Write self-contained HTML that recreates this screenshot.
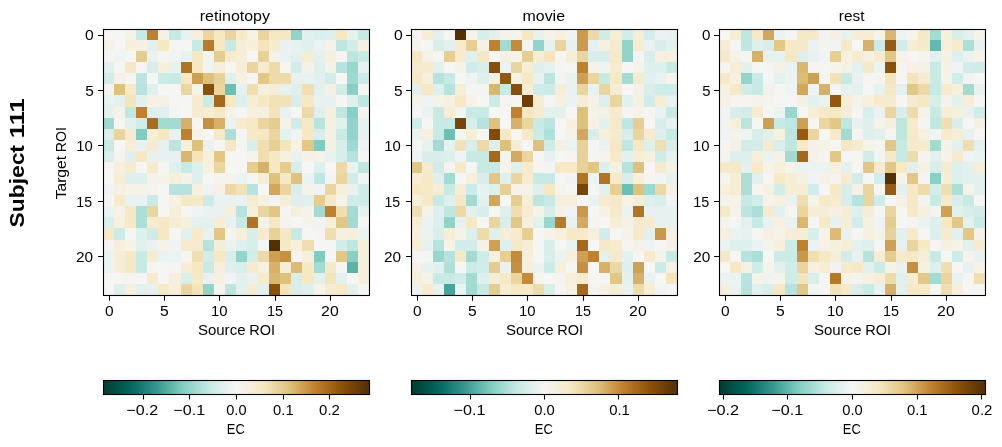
<!DOCTYPE html>
<html><head><meta charset="utf-8"><title>EC</title>
<style>
html,body{margin:0;padding:0;background:#fff;}
svg{display:block;}
text{font-family:"Liberation Sans",sans-serif;fill:#000;}
.t{opacity:0.999;}
</style></head><body>
<svg width="1002" height="447" viewBox="0 0 1002 447">
<rect x="0" y="0" width="1002" height="447" fill="#fff"/>
<defs><linearGradient id="g" x1="0" x2="1" y1="0" y2="0"><stop offset="0.0000" stop-color="#003c30"/><stop offset="0.0156" stop-color="#004337"/><stop offset="0.0312" stop-color="#00493e"/><stop offset="0.0469" stop-color="#005046"/><stop offset="0.0625" stop-color="#01564d"/><stop offset="0.0781" stop-color="#015d54"/><stop offset="0.0938" stop-color="#01645b"/><stop offset="0.1094" stop-color="#066b63"/><stop offset="0.1250" stop-color="#0e726a"/><stop offset="0.1406" stop-color="#167a72"/><stop offset="0.1562" stop-color="#1f827a"/><stop offset="0.1719" stop-color="#278a82"/><stop offset="0.1875" stop-color="#2f9189"/><stop offset="0.2031" stop-color="#389991"/><stop offset="0.2188" stop-color="#44a299"/><stop offset="0.2344" stop-color="#4faaa1"/><stop offset="0.2500" stop-color="#5bb3a8"/><stop offset="0.2656" stop-color="#67bbb0"/><stop offset="0.2812" stop-color="#73c3b8"/><stop offset="0.2969" stop-color="#7fccc0"/><stop offset="0.3125" stop-color="#8ad1c6"/><stop offset="0.3281" stop-color="#95d6cc"/><stop offset="0.3438" stop-color="#a0dad1"/><stop offset="0.3594" stop-color="#abdfd7"/><stop offset="0.3750" stop-color="#b6e3dd"/><stop offset="0.3906" stop-color="#c1e8e2"/><stop offset="0.4062" stop-color="#cbebe6"/><stop offset="0.4219" stop-color="#d2ede9"/><stop offset="0.4375" stop-color="#d9eeeb"/><stop offset="0.4531" stop-color="#e0f0ee"/><stop offset="0.4688" stop-color="#e7f2f0"/><stop offset="0.4844" stop-color="#eff3f3"/><stop offset="0.5000" stop-color="#f5f5f4"/><stop offset="0.5156" stop-color="#f5f3ec"/><stop offset="0.5312" stop-color="#f5f1e4"/><stop offset="0.5469" stop-color="#f5efdc"/><stop offset="0.5625" stop-color="#f6edd5"/><stop offset="0.5781" stop-color="#f6ebcd"/><stop offset="0.5938" stop-color="#f6e9c5"/><stop offset="0.6094" stop-color="#f3e4bb"/><stop offset="0.6250" stop-color="#f0deb0"/><stop offset="0.6406" stop-color="#ecd8a5"/><stop offset="0.6562" stop-color="#e8d29a"/><stop offset="0.6719" stop-color="#e5cc8f"/><stop offset="0.6875" stop-color="#e1c684"/><stop offset="0.7031" stop-color="#ddbe78"/><stop offset="0.7188" stop-color="#d8b46c"/><stop offset="0.7344" stop-color="#d3aa5f"/><stop offset="0.7500" stop-color="#cea053"/><stop offset="0.7656" stop-color="#c99546"/><stop offset="0.7812" stop-color="#c48b3a"/><stop offset="0.7969" stop-color="#bf812d"/><stop offset="0.8125" stop-color="#b77928"/><stop offset="0.8281" stop-color="#af7222"/><stop offset="0.8438" stop-color="#a76a1d"/><stop offset="0.8594" stop-color="#9f6317"/><stop offset="0.8750" stop-color="#975b12"/><stop offset="0.8906" stop-color="#8f540c"/><stop offset="0.9062" stop-color="#874e0a"/><stop offset="0.9219" stop-color="#7e4909"/><stop offset="0.9375" stop-color="#754308"/><stop offset="0.9531" stop-color="#6c3e07"/><stop offset="0.9688" stop-color="#633906"/><stop offset="0.9844" stop-color="#5b3406"/><stop offset="1.0000" stop-color="#543005"/></linearGradient></defs>
<g shape-rendering="crispEdges">
<rect x="103" y="29" width="22" height="11" fill="#f5f5f4"/><rect x="125" y="29" width="11" height="11" fill="#f5f2e8"/><rect x="136" y="29" width="11" height="11" fill="#c7eae5"/><rect x="147" y="29" width="11" height="11" fill="#bf812d"/><rect x="158" y="29" width="11" height="11" fill="#f5f1e4"/><rect x="169" y="29" width="12" height="11" fill="#c7eae5"/><rect x="181" y="29" width="11" height="11" fill="#e9f2f1"/><rect x="192" y="29" width="11" height="11" fill="#f5efdc"/><rect x="203" y="29" width="11" height="11" fill="#ead59f"/><rect x="214" y="29" width="11" height="11" fill="#f6e8c3"/><rect x="225" y="29" width="11" height="11" fill="#ead59f"/><rect x="236" y="29" width="11" height="11" fill="#f6e9c7"/><rect x="247" y="29" width="11" height="11" fill="#f5f2e8"/><rect x="258" y="29" width="11" height="11" fill="#ead59f"/><rect x="269" y="29" width="22" height="11" fill="#f6e8c3"/><rect x="291" y="29" width="11" height="11" fill="#92d4ca"/><rect x="302" y="29" width="12" height="11" fill="#e0f0ee"/><rect x="314" y="29" width="11" height="11" fill="#dbefec"/><rect x="325" y="29" width="11" height="11" fill="#def0ed"/><rect x="336" y="29" width="11" height="11" fill="#f6e8c3"/><rect x="347" y="29" width="11" height="11" fill="#e6f1f0"/><rect x="358" y="29" width="11" height="11" fill="#c7eae5"/>
<rect x="103" y="40" width="11" height="11" fill="#f5f2e8"/><rect x="114" y="40" width="11" height="11" fill="#f5f5f4"/><rect x="125" y="40" width="11" height="11" fill="#f5efdc"/><rect x="136" y="40" width="11" height="11" fill="#f5f0e0"/><rect x="147" y="40" width="11" height="11" fill="#e2f0ee"/><rect x="158" y="40" width="11" height="11" fill="#f6e8c3"/><rect x="169" y="40" width="23" height="11" fill="#f5f5f4"/><rect x="192" y="40" width="11" height="11" fill="#c7eae5"/><rect x="203" y="40" width="11" height="11" fill="#b97b29"/><rect x="214" y="40" width="11" height="11" fill="#f6e8c3"/><rect x="225" y="40" width="11" height="11" fill="#c7eae5"/><rect x="236" y="40" width="11" height="11" fill="#f6edd7"/><rect x="247" y="40" width="11" height="11" fill="#f5efdc"/><rect x="258" y="40" width="11" height="11" fill="#f3e4bb"/><rect x="269" y="40" width="11" height="11" fill="#f6ebcf"/><rect x="280" y="40" width="11" height="11" fill="#e9f2f1"/><rect x="291" y="40" width="11" height="11" fill="#e7f2f0"/><rect x="302" y="40" width="12" height="11" fill="#e0f0ee"/><rect x="314" y="40" width="11" height="11" fill="#ebf3f2"/><rect x="325" y="40" width="11" height="11" fill="#f5f2ea"/><rect x="336" y="40" width="11" height="11" fill="#bfe7e1"/><rect x="347" y="40" width="11" height="11" fill="#d2ede9"/><rect x="358" y="40" width="11" height="11" fill="#f5f0e0"/>
<rect x="103" y="51" width="11" height="11" fill="#f5f5f4"/><rect x="114" y="51" width="11" height="11" fill="#f0f4f3"/><rect x="125" y="51" width="11" height="11" fill="#f5f5f4"/><rect x="136" y="51" width="11" height="11" fill="#e5cc8f"/><rect x="147" y="51" width="11" height="11" fill="#e9f2f1"/><rect x="158" y="51" width="11" height="11" fill="#f5f4f0"/><rect x="169" y="51" width="12" height="11" fill="#f0f4f3"/><rect x="181" y="51" width="11" height="11" fill="#e7f2f0"/><rect x="192" y="51" width="11" height="11" fill="#f6e8c3"/><rect x="203" y="51" width="11" height="11" fill="#f0f4f3"/><rect x="214" y="51" width="11" height="11" fill="#e5cc8f"/><rect x="225" y="51" width="11" height="11" fill="#f6ebcf"/><rect x="236" y="51" width="11" height="11" fill="#f6edd7"/><rect x="247" y="51" width="11" height="11" fill="#f5f5f4"/><rect x="258" y="51" width="11" height="11" fill="#e8d29a"/><rect x="269" y="51" width="11" height="11" fill="#f5f2ea"/><rect x="280" y="51" width="11" height="11" fill="#e9f2f1"/><rect x="291" y="51" width="11" height="11" fill="#e2f0ee"/><rect x="302" y="51" width="12" height="11" fill="#f6edd5"/><rect x="314" y="51" width="11" height="11" fill="#e2f0ee"/><rect x="325" y="51" width="11" height="11" fill="#f5efde"/><rect x="336" y="51" width="11" height="11" fill="#f5f4f0"/><rect x="347" y="51" width="11" height="11" fill="#bce5df"/><rect x="358" y="51" width="11" height="11" fill="#c7eae5"/>
<rect x="103" y="62" width="11" height="11" fill="#e2f0ee"/><rect x="114" y="62" width="11" height="11" fill="#f5f5f4"/><rect x="125" y="62" width="11" height="11" fill="#f6e8c3"/><rect x="136" y="62" width="11" height="11" fill="#f5f5f4"/><rect x="147" y="62" width="11" height="11" fill="#d9eeeb"/><rect x="158" y="62" width="11" height="11" fill="#f5efdc"/><rect x="169" y="62" width="12" height="11" fill="#e7f2f0"/><rect x="181" y="62" width="11" height="11" fill="#b17423"/><rect x="192" y="62" width="11" height="11" fill="#f6e8c3"/><rect x="203" y="62" width="11" height="11" fill="#eff3f3"/><rect x="214" y="62" width="11" height="11" fill="#f5efdc"/><rect x="225" y="62" width="11" height="11" fill="#f5f5f4"/><rect x="236" y="62" width="11" height="11" fill="#f6edd7"/><rect x="247" y="62" width="11" height="11" fill="#ead59f"/><rect x="258" y="62" width="11" height="11" fill="#f6ebcf"/><rect x="269" y="62" width="11" height="11" fill="#eedbaa"/><rect x="280" y="62" width="11" height="11" fill="#f5f5f4"/><rect x="291" y="62" width="11" height="11" fill="#d2ede9"/><rect x="302" y="62" width="12" height="11" fill="#f5f1e6"/><rect x="314" y="62" width="11" height="11" fill="#def0ed"/><rect x="325" y="62" width="11" height="11" fill="#f5f1e6"/><rect x="336" y="62" width="11" height="11" fill="#b6e3dd"/><rect x="347" y="62" width="11" height="11" fill="#98d7cd"/><rect x="358" y="62" width="11" height="11" fill="#e6f1f0"/>
<rect x="103" y="73" width="11" height="11" fill="#d2ede9"/><rect x="114" y="73" width="11" height="11" fill="#f5f1e6"/><rect x="125" y="73" width="11" height="11" fill="#f5f5f4"/><rect x="136" y="73" width="11" height="11" fill="#bce5df"/><rect x="147" y="73" width="11" height="11" fill="#f5f5f4"/><rect x="158" y="73" width="11" height="11" fill="#cbebe6"/><rect x="169" y="73" width="12" height="11" fill="#c7eae5"/><rect x="181" y="73" width="11" height="11" fill="#f6e8c3"/><rect x="192" y="73" width="11" height="11" fill="#cea053"/><rect x="203" y="73" width="11" height="11" fill="#dec17b"/><rect x="214" y="73" width="11" height="11" fill="#e8d29a"/><rect x="225" y="73" width="11" height="11" fill="#def0ed"/><rect x="236" y="73" width="11" height="11" fill="#f5f0e0"/><rect x="247" y="73" width="11" height="11" fill="#f5f5f4"/><rect x="258" y="73" width="11" height="11" fill="#e2c787"/><rect x="269" y="73" width="22" height="11" fill="#eedbaa"/><rect x="291" y="73" width="23" height="11" fill="#e6f1f0"/><rect x="314" y="73" width="11" height="11" fill="#e2f0ee"/><rect x="325" y="73" width="11" height="11" fill="#d2ede9"/><rect x="336" y="73" width="11" height="11" fill="#f5f5f4"/><rect x="347" y="73" width="11" height="11" fill="#9dd9d0"/><rect x="358" y="73" width="11" height="11" fill="#cbebe6"/>
<rect x="103" y="84" width="11" height="11" fill="#f5f3ee"/><rect x="114" y="84" width="11" height="11" fill="#dec17b"/><rect x="125" y="84" width="11" height="11" fill="#f6e9c7"/><rect x="136" y="84" width="11" height="11" fill="#b6e3dd"/><rect x="147" y="84" width="11" height="11" fill="#def0ed"/><rect x="158" y="84" width="23" height="11" fill="#f5f5f4"/><rect x="181" y="84" width="11" height="11" fill="#ead59f"/><rect x="192" y="84" width="11" height="11" fill="#f5f2ea"/><rect x="203" y="84" width="11" height="11" fill="#8b500a"/><rect x="214" y="84" width="11" height="11" fill="#ead59f"/><rect x="225" y="84" width="11" height="11" fill="#6dbfb4"/><rect x="236" y="84" width="11" height="11" fill="#e6f1f0"/><rect x="247" y="84" width="11" height="11" fill="#f0deb0"/><rect x="258" y="84" width="11" height="11" fill="#f5efdc"/><rect x="269" y="84" width="11" height="11" fill="#f6edd7"/><rect x="280" y="84" width="11" height="11" fill="#e7f2f0"/><rect x="291" y="84" width="11" height="11" fill="#def0ed"/><rect x="302" y="84" width="12" height="11" fill="#f0deb0"/><rect x="314" y="84" width="11" height="11" fill="#e2f0ee"/><rect x="325" y="84" width="11" height="11" fill="#f5f0e0"/><rect x="336" y="84" width="11" height="11" fill="#d2ede9"/><rect x="347" y="84" width="11" height="11" fill="#87d0c5"/><rect x="358" y="84" width="11" height="11" fill="#f5f5f4"/>
<rect x="103" y="95" width="11" height="12" fill="#e6f1f0"/><rect x="114" y="95" width="11" height="12" fill="#e2f0ee"/><rect x="125" y="95" width="11" height="12" fill="#f3e4bb"/><rect x="136" y="95" width="11" height="12" fill="#e2f0ee"/><rect x="147" y="95" width="11" height="12" fill="#f5f1e4"/><rect x="158" y="95" width="11" height="12" fill="#f5f1e6"/><rect x="169" y="95" width="23" height="12" fill="#f5f5f4"/><rect x="192" y="95" width="11" height="12" fill="#f6ebcf"/><rect x="203" y="95" width="11" height="12" fill="#cbebe6"/><rect x="214" y="95" width="11" height="12" fill="#a5691b"/><rect x="225" y="95" width="11" height="12" fill="#f6e8c3"/><rect x="236" y="95" width="11" height="12" fill="#def0ed"/><rect x="247" y="95" width="11" height="12" fill="#f6edd7"/><rect x="258" y="95" width="11" height="12" fill="#f6e8c3"/><rect x="269" y="95" width="22" height="12" fill="#f2e2b8"/><rect x="291" y="95" width="11" height="12" fill="#d7eeeb"/><rect x="302" y="95" width="12" height="12" fill="#f6e8c3"/><rect x="314" y="95" width="11" height="12" fill="#e6f1f0"/><rect x="325" y="95" width="11" height="12" fill="#e7f2f0"/><rect x="336" y="95" width="11" height="12" fill="#f5f5f4"/><rect x="347" y="95" width="11" height="12" fill="#def0ed"/><rect x="358" y="95" width="11" height="12" fill="#bfe7e1"/>
<rect x="103" y="107" width="11" height="11" fill="#e2f0ee"/><rect x="114" y="107" width="11" height="11" fill="#f5f1e4"/><rect x="125" y="107" width="11" height="11" fill="#bfe7e1"/><rect x="136" y="107" width="11" height="11" fill="#bf812d"/><rect x="147" y="107" width="11" height="11" fill="#def0ed"/><rect x="158" y="107" width="11" height="11" fill="#e0f0ee"/><rect x="169" y="107" width="12" height="11" fill="#f0f4f3"/><rect x="181" y="107" width="11" height="11" fill="#f5f5f4"/><rect x="192" y="107" width="11" height="11" fill="#f6ebcd"/><rect x="203" y="107" width="11" height="11" fill="#f6edd5"/><rect x="214" y="107" width="11" height="11" fill="#f6e8c3"/><rect x="225" y="107" width="11" height="11" fill="#f5f2e8"/><rect x="236" y="107" width="11" height="11" fill="#f5f5f4"/><rect x="247" y="107" width="11" height="11" fill="#f5efdc"/><rect x="258" y="107" width="11" height="11" fill="#f5f0e0"/><rect x="269" y="107" width="11" height="11" fill="#f3e4bb"/><rect x="280" y="107" width="11" height="11" fill="#e9f2f1"/><rect x="291" y="107" width="11" height="11" fill="#f5f5f4"/><rect x="302" y="107" width="12" height="11" fill="#edd9a8"/><rect x="314" y="107" width="11" height="11" fill="#def0ed"/><rect x="325" y="107" width="11" height="11" fill="#f5efdc"/><rect x="336" y="107" width="11" height="11" fill="#bfe7e1"/><rect x="347" y="107" width="11" height="11" fill="#87d0c5"/><rect x="358" y="107" width="11" height="11" fill="#f5f3ee"/>
<rect x="103" y="118" width="11" height="11" fill="#9dd9d0"/><rect x="114" y="118" width="11" height="11" fill="#f5f5f4"/><rect x="125" y="118" width="11" height="11" fill="#e2f0ee"/><rect x="136" y="118" width="11" height="11" fill="#d2ede9"/><rect x="147" y="118" width="11" height="11" fill="#a96c1e"/><rect x="158" y="118" width="23" height="11" fill="#a3dbd3"/><rect x="181" y="118" width="11" height="11" fill="#d7b169"/><rect x="192" y="118" width="11" height="11" fill="#f5f5f4"/><rect x="203" y="118" width="11" height="11" fill="#c79040"/><rect x="214" y="118" width="11" height="11" fill="#d7b169"/><rect x="225" y="118" width="11" height="11" fill="#e9f2f1"/><rect x="236" y="118" width="11" height="11" fill="#f6ebcf"/><rect x="247" y="118" width="11" height="11" fill="#f6e9c7"/><rect x="258" y="118" width="11" height="11" fill="#ead59f"/><rect x="269" y="118" width="11" height="11" fill="#e5cc8f"/><rect x="280" y="118" width="11" height="11" fill="#f5f2e8"/><rect x="291" y="118" width="11" height="11" fill="#d2ede9"/><rect x="302" y="118" width="12" height="11" fill="#f6e9c7"/><rect x="314" y="118" width="11" height="11" fill="#b6e3dd"/><rect x="325" y="118" width="11" height="11" fill="#f5f0e0"/><rect x="336" y="118" width="11" height="11" fill="#e2f0ee"/><rect x="347" y="118" width="11" height="11" fill="#92d4ca"/><rect x="358" y="118" width="11" height="11" fill="#e7f2f0"/>
<rect x="103" y="129" width="11" height="11" fill="#d9eeeb"/><rect x="114" y="129" width="11" height="11" fill="#ead59f"/><rect x="125" y="129" width="11" height="11" fill="#f6ebcf"/><rect x="136" y="129" width="11" height="11" fill="#7fccc0"/><rect x="147" y="129" width="11" height="11" fill="#f6edd5"/><rect x="158" y="129" width="11" height="11" fill="#f6e8c3"/><rect x="169" y="129" width="12" height="11" fill="#e9f2f1"/><rect x="181" y="129" width="11" height="11" fill="#bf812d"/><rect x="192" y="129" width="11" height="11" fill="#f5f2e8"/><rect x="203" y="129" width="11" height="11" fill="#f5f5f4"/><rect x="214" y="129" width="11" height="11" fill="#f6e9c7"/><rect x="225" y="129" width="11" height="11" fill="#abdfd7"/><rect x="236" y="129" width="11" height="11" fill="#f5f5f4"/><rect x="247" y="129" width="11" height="11" fill="#f6e9c7"/><rect x="258" y="129" width="11" height="11" fill="#f6e8c3"/><rect x="269" y="129" width="11" height="11" fill="#ead59f"/><rect x="280" y="129" width="11" height="11" fill="#e2f0ee"/><rect x="291" y="129" width="11" height="11" fill="#eff3f3"/><rect x="302" y="129" width="12" height="11" fill="#f6e8c3"/><rect x="314" y="129" width="11" height="11" fill="#d7eeeb"/><rect x="325" y="129" width="11" height="11" fill="#f5f0e0"/><rect x="336" y="129" width="11" height="11" fill="#c7eae5"/><rect x="347" y="129" width="11" height="11" fill="#92d4ca"/><rect x="358" y="129" width="11" height="11" fill="#e7f2f0"/>
<rect x="103" y="140" width="11" height="11" fill="#c7eae5"/><rect x="114" y="140" width="11" height="11" fill="#f5f5f4"/><rect x="125" y="140" width="11" height="11" fill="#f6edd7"/><rect x="136" y="140" width="11" height="11" fill="#e7f2f0"/><rect x="147" y="140" width="11" height="11" fill="#f6ebcf"/><rect x="158" y="140" width="11" height="11" fill="#e6f1f0"/><rect x="169" y="140" width="12" height="11" fill="#bce5df"/><rect x="181" y="140" width="11" height="11" fill="#f5efdc"/><rect x="192" y="140" width="11" height="11" fill="#dec17b"/><rect x="203" y="140" width="11" height="11" fill="#e9f2f1"/><rect x="214" y="140" width="11" height="11" fill="#f5f5f4"/><rect x="225" y="140" width="11" height="11" fill="#f6e8c3"/><rect x="236" y="140" width="11" height="11" fill="#f5f5f4"/><rect x="247" y="140" width="11" height="11" fill="#d7eeeb"/><rect x="258" y="140" width="11" height="11" fill="#f0deb0"/><rect x="269" y="140" width="11" height="11" fill="#e7cf94"/><rect x="280" y="140" width="11" height="11" fill="#f3e4bb"/><rect x="291" y="140" width="11" height="11" fill="#f5f1e4"/><rect x="302" y="140" width="12" height="11" fill="#e1c684"/><rect x="314" y="140" width="11" height="11" fill="#7fccc0"/><rect x="325" y="140" width="11" height="11" fill="#f5f0e0"/><rect x="336" y="140" width="11" height="11" fill="#d9eeeb"/><rect x="347" y="140" width="11" height="11" fill="#9dd9d0"/><rect x="358" y="140" width="11" height="11" fill="#eff3f3"/>
<rect x="103" y="151" width="11" height="11" fill="#d9eeeb"/><rect x="114" y="151" width="11" height="11" fill="#f5f3ee"/><rect x="125" y="151" width="11" height="11" fill="#def0ed"/><rect x="136" y="151" width="11" height="11" fill="#f6e8c3"/><rect x="147" y="151" width="34" height="11" fill="#e7f2f0"/><rect x="181" y="151" width="11" height="11" fill="#d9b76f"/><rect x="192" y="151" width="11" height="11" fill="#f3e4bb"/><rect x="203" y="151" width="11" height="11" fill="#f5efdc"/><rect x="214" y="151" width="11" height="11" fill="#e1c684"/><rect x="225" y="151" width="22" height="11" fill="#f5f5f4"/><rect x="247" y="151" width="11" height="11" fill="#f5f3ee"/><rect x="258" y="151" width="11" height="11" fill="#f0deb0"/><rect x="269" y="151" width="11" height="11" fill="#f6e8c3"/><rect x="280" y="151" width="11" height="11" fill="#f5f0e0"/><rect x="291" y="151" width="11" height="11" fill="#e9f2f1"/><rect x="302" y="151" width="12" height="11" fill="#f5f1e6"/><rect x="314" y="151" width="11" height="11" fill="#f5f2ea"/><rect x="325" y="151" width="11" height="11" fill="#e9f2f1"/><rect x="336" y="151" width="11" height="11" fill="#d7eeeb"/><rect x="347" y="151" width="11" height="11" fill="#b6e3dd"/><rect x="358" y="151" width="11" height="11" fill="#f5f5f4"/>
<rect x="103" y="162" width="11" height="11" fill="#f5f5f4"/><rect x="114" y="162" width="11" height="11" fill="#f5efdc"/><rect x="125" y="162" width="11" height="11" fill="#f6ebcf"/><rect x="136" y="162" width="11" height="11" fill="#f5f5f4"/><rect x="147" y="162" width="11" height="11" fill="#f6eacb"/><rect x="158" y="162" width="11" height="11" fill="#f5f5f4"/><rect x="169" y="162" width="12" height="11" fill="#def0ed"/><rect x="181" y="162" width="11" height="11" fill="#c7eae5"/><rect x="192" y="162" width="11" height="11" fill="#def0ed"/><rect x="203" y="162" width="11" height="11" fill="#f5efdc"/><rect x="214" y="162" width="11" height="11" fill="#ead59f"/><rect x="225" y="162" width="22" height="11" fill="#f5f5f4"/><rect x="247" y="162" width="11" height="11" fill="#e5cc8f"/><rect x="258" y="162" width="11" height="11" fill="#d7b169"/><rect x="269" y="162" width="11" height="11" fill="#f6e8c3"/><rect x="280" y="162" width="11" height="11" fill="#e5cc8f"/><rect x="291" y="162" width="11" height="11" fill="#d7eeeb"/><rect x="302" y="162" width="12" height="11" fill="#f5f5f4"/><rect x="314" y="162" width="11" height="11" fill="#def0ed"/><rect x="325" y="162" width="11" height="11" fill="#f5f5f4"/><rect x="336" y="162" width="11" height="11" fill="#edd9a8"/><rect x="347" y="162" width="11" height="11" fill="#ebf3f2"/><rect x="358" y="162" width="11" height="11" fill="#bfe7e1"/>
<rect x="103" y="173" width="11" height="11" fill="#f5f5f4"/><rect x="114" y="173" width="11" height="11" fill="#f6edd7"/><rect x="125" y="173" width="22" height="11" fill="#def0ed"/><rect x="147" y="173" width="22" height="11" fill="#f5f2e8"/><rect x="169" y="173" width="12" height="11" fill="#f5efdc"/><rect x="181" y="173" width="11" height="11" fill="#f5f1e6"/><rect x="192" y="173" width="11" height="11" fill="#def0ed"/><rect x="203" y="173" width="11" height="11" fill="#f5f5f4"/><rect x="214" y="173" width="22" height="11" fill="#f5f3ee"/><rect x="236" y="173" width="11" height="11" fill="#ebf3f2"/><rect x="247" y="173" width="11" height="11" fill="#f5f5f4"/><rect x="258" y="173" width="11" height="11" fill="#f6edd7"/><rect x="269" y="173" width="11" height="11" fill="#dec17b"/><rect x="280" y="173" width="11" height="11" fill="#f6e8c3"/><rect x="291" y="173" width="11" height="11" fill="#dec17b"/><rect x="302" y="173" width="12" height="11" fill="#ebf3f2"/><rect x="314" y="173" width="11" height="11" fill="#bfe7e1"/><rect x="325" y="173" width="11" height="11" fill="#f0f4f3"/><rect x="336" y="173" width="11" height="11" fill="#ead59f"/><rect x="347" y="173" width="11" height="11" fill="#d2ede9"/><rect x="358" y="173" width="11" height="11" fill="#f0f4f3"/>
<rect x="103" y="184" width="11" height="11" fill="#eff3f3"/><rect x="114" y="184" width="11" height="11" fill="#f5f0e0"/><rect x="125" y="184" width="22" height="11" fill="#f5f2e8"/><rect x="147" y="184" width="11" height="11" fill="#f5f3ee"/><rect x="158" y="184" width="11" height="11" fill="#f5f5f4"/><rect x="169" y="184" width="23" height="11" fill="#b6e3dd"/><rect x="192" y="184" width="11" height="11" fill="#f5f0e0"/><rect x="203" y="184" width="11" height="11" fill="#eff3f3"/><rect x="214" y="184" width="11" height="11" fill="#f5f1e6"/><rect x="225" y="184" width="11" height="11" fill="#edd9a8"/><rect x="236" y="184" width="11" height="11" fill="#f2e2b8"/><rect x="247" y="184" width="11" height="11" fill="#b6e3dd"/><rect x="258" y="184" width="11" height="11" fill="#f5f5f4"/><rect x="269" y="184" width="11" height="11" fill="#d2a75c"/><rect x="280" y="184" width="11" height="11" fill="#ead59f"/><rect x="291" y="184" width="11" height="11" fill="#d7eeeb"/><rect x="302" y="184" width="12" height="11" fill="#f5f2e8"/><rect x="314" y="184" width="11" height="11" fill="#eff3f3"/><rect x="325" y="184" width="11" height="11" fill="#ead59f"/><rect x="336" y="184" width="11" height="11" fill="#f5efdc"/><rect x="347" y="184" width="11" height="11" fill="#e9f2f1"/><rect x="358" y="184" width="11" height="11" fill="#ceece8"/>
<rect x="103" y="195" width="11" height="11" fill="#f5f5f4"/><rect x="114" y="195" width="11" height="11" fill="#f6eacb"/><rect x="125" y="195" width="22" height="11" fill="#e9f2f1"/><rect x="147" y="195" width="11" height="11" fill="#cbebe6"/><rect x="158" y="195" width="11" height="11" fill="#f5f5f4"/><rect x="169" y="195" width="12" height="11" fill="#f5f0e0"/><rect x="181" y="195" width="11" height="11" fill="#f6e8c3"/><rect x="192" y="195" width="11" height="11" fill="#f6e9c7"/><rect x="203" y="195" width="11" height="11" fill="#cbebe6"/><rect x="214" y="195" width="33" height="11" fill="#e9f2f1"/><rect x="247" y="195" width="11" height="11" fill="#f6ebcf"/><rect x="258" y="195" width="11" height="11" fill="#f5f0e0"/><rect x="269" y="195" width="11" height="11" fill="#f0f4f3"/><rect x="280" y="195" width="11" height="11" fill="#f6edd7"/><rect x="291" y="195" width="23" height="11" fill="#def0ed"/><rect x="314" y="195" width="11" height="11" fill="#e5cc8f"/><rect x="325" y="195" width="11" height="11" fill="#f6e9c7"/><rect x="336" y="195" width="11" height="11" fill="#f5f2e8"/><rect x="347" y="195" width="22" height="11" fill="#d0ece8"/>
<rect x="103" y="206" width="11" height="11" fill="#ebf3f2"/><rect x="114" y="206" width="11" height="11" fill="#f5f1e6"/><rect x="125" y="206" width="11" height="11" fill="#f6e8c3"/><rect x="136" y="206" width="11" height="11" fill="#abdfd7"/><rect x="147" y="206" width="11" height="11" fill="#ead59f"/><rect x="158" y="206" width="11" height="11" fill="#f5f5f4"/><rect x="169" y="206" width="12" height="11" fill="#f5efdc"/><rect x="181" y="206" width="11" height="11" fill="#f5f5f4"/><rect x="192" y="206" width="11" height="11" fill="#eff3f3"/><rect x="203" y="206" width="22" height="11" fill="#e9f2f1"/><rect x="225" y="206" width="11" height="11" fill="#f5efdc"/><rect x="236" y="206" width="11" height="11" fill="#b6e3dd"/><rect x="247" y="206" width="11" height="11" fill="#f5efdc"/><rect x="258" y="206" width="11" height="11" fill="#ead59f"/><rect x="269" y="206" width="11" height="11" fill="#e1c684"/><rect x="280" y="206" width="11" height="11" fill="#f5f5f4"/><rect x="291" y="206" width="11" height="11" fill="#f5efdc"/><rect x="302" y="206" width="12" height="11" fill="#f5f2ea"/><rect x="314" y="206" width="11" height="11" fill="#a3dbd3"/><rect x="325" y="206" width="11" height="11" fill="#bf812d"/><rect x="336" y="206" width="11" height="11" fill="#f0deb0"/><rect x="347" y="206" width="11" height="11" fill="#a3dbd3"/><rect x="358" y="206" width="11" height="11" fill="#e7f2f0"/>
<rect x="103" y="217" width="11" height="11" fill="#d9eeeb"/><rect x="114" y="217" width="11" height="11" fill="#f5f0e0"/><rect x="125" y="217" width="11" height="11" fill="#f6e8c3"/><rect x="136" y="217" width="11" height="11" fill="#abdfd7"/><rect x="147" y="217" width="11" height="11" fill="#f6ebcf"/><rect x="158" y="217" width="11" height="11" fill="#f6e8c3"/><rect x="169" y="217" width="12" height="11" fill="#f6edd7"/><rect x="181" y="217" width="11" height="11" fill="#f5efdc"/><rect x="192" y="217" width="22" height="11" fill="#e2f0ee"/><rect x="214" y="217" width="11" height="11" fill="#f6edd7"/><rect x="225" y="217" width="11" height="11" fill="#e6f1f0"/><rect x="236" y="217" width="11" height="11" fill="#c7eae5"/><rect x="247" y="217" width="11" height="11" fill="#b17423"/><rect x="258" y="217" width="11" height="11" fill="#f5f2ea"/><rect x="269" y="217" width="11" height="11" fill="#f6e8c3"/><rect x="280" y="217" width="11" height="11" fill="#f5f3ee"/><rect x="291" y="217" width="11" height="11" fill="#f5f5f4"/><rect x="302" y="217" width="12" height="11" fill="#f5f2ea"/><rect x="314" y="217" width="11" height="11" fill="#eff3f3"/><rect x="325" y="217" width="11" height="11" fill="#f5efdc"/><rect x="336" y="217" width="11" height="11" fill="#e1c684"/><rect x="347" y="217" width="11" height="11" fill="#a3dbd3"/><rect x="358" y="217" width="11" height="11" fill="#f5f5f4"/>
<rect x="103" y="228" width="11" height="12" fill="#f6e9c7"/><rect x="114" y="228" width="11" height="12" fill="#cbebe6"/><rect x="125" y="228" width="11" height="12" fill="#f5f5f4"/><rect x="136" y="228" width="11" height="12" fill="#def0ed"/><rect x="147" y="228" width="11" height="12" fill="#ceece8"/><rect x="158" y="228" width="11" height="12" fill="#f6e8c3"/><rect x="169" y="228" width="12" height="12" fill="#f5f5f4"/><rect x="181" y="228" width="11" height="12" fill="#e2f0ee"/><rect x="192" y="228" width="11" height="12" fill="#f6eacb"/><rect x="203" y="228" width="11" height="12" fill="#e6f1f0"/><rect x="214" y="228" width="11" height="12" fill="#e1c684"/><rect x="225" y="228" width="11" height="12" fill="#f5f3ee"/><rect x="236" y="228" width="11" height="12" fill="#f5efdc"/><rect x="247" y="228" width="11" height="12" fill="#d7eeeb"/><rect x="258" y="228" width="11" height="12" fill="#f6ebcf"/><rect x="269" y="228" width="11" height="12" fill="#e8d29a"/><rect x="280" y="228" width="11" height="12" fill="#f6e8c3"/><rect x="291" y="228" width="11" height="12" fill="#c7eae5"/><rect x="302" y="228" width="12" height="12" fill="#f5f5f4"/><rect x="314" y="228" width="11" height="12" fill="#f5f4f0"/><rect x="325" y="228" width="11" height="12" fill="#f0deb0"/><rect x="336" y="228" width="11" height="12" fill="#f5f0e0"/><rect x="347" y="228" width="11" height="12" fill="#f5efdc"/><rect x="358" y="228" width="11" height="12" fill="#ebf3f2"/>
<rect x="103" y="240" width="11" height="11" fill="#f5f4f0"/><rect x="114" y="240" width="11" height="11" fill="#f5efdc"/><rect x="125" y="240" width="11" height="11" fill="#f5f2e8"/><rect x="136" y="240" width="11" height="11" fill="#e2f0ee"/><rect x="147" y="240" width="11" height="11" fill="#e9f2f1"/><rect x="158" y="240" width="11" height="11" fill="#f5f2e8"/><rect x="169" y="240" width="12" height="11" fill="#eff3f3"/><rect x="181" y="240" width="22" height="11" fill="#f6ebcf"/><rect x="203" y="240" width="11" height="11" fill="#b6e3dd"/><rect x="214" y="240" width="11" height="11" fill="#f6edd7"/><rect x="225" y="240" width="11" height="11" fill="#e9f2f1"/><rect x="236" y="240" width="11" height="11" fill="#def0ed"/><rect x="247" y="240" width="11" height="11" fill="#d7eeeb"/><rect x="258" y="240" width="11" height="11" fill="#f5f5f4"/><rect x="269" y="240" width="11" height="11" fill="#543005"/><rect x="280" y="240" width="11" height="11" fill="#f6e9c7"/><rect x="291" y="240" width="11" height="11" fill="#f5efdc"/><rect x="302" y="240" width="12" height="11" fill="#f0deb0"/><rect x="314" y="240" width="22" height="11" fill="#f5f5f4"/><rect x="336" y="240" width="11" height="11" fill="#d2ede9"/><rect x="347" y="240" width="11" height="11" fill="#bfe7e1"/><rect x="358" y="240" width="11" height="11" fill="#f5efdc"/>
<rect x="103" y="251" width="11" height="11" fill="#ebf3f2"/><rect x="114" y="251" width="11" height="11" fill="#f6edd7"/><rect x="125" y="251" width="11" height="11" fill="#f6e8c3"/><rect x="136" y="251" width="11" height="11" fill="#c7eae5"/><rect x="147" y="251" width="11" height="11" fill="#f6ebcf"/><rect x="158" y="251" width="11" height="11" fill="#e9f2f1"/><rect x="169" y="251" width="12" height="11" fill="#ebf3f2"/><rect x="181" y="251" width="11" height="11" fill="#f5f5f4"/><rect x="192" y="251" width="11" height="11" fill="#f0deb0"/><rect x="203" y="251" width="11" height="11" fill="#d2ede9"/><rect x="214" y="251" width="11" height="11" fill="#f6e8c3"/><rect x="225" y="251" width="11" height="11" fill="#d7eeeb"/><rect x="236" y="251" width="11" height="11" fill="#92d4ca"/><rect x="247" y="251" width="11" height="11" fill="#d2ede9"/><rect x="258" y="251" width="11" height="11" fill="#edd9a8"/><rect x="269" y="251" width="11" height="11" fill="#cea053"/><rect x="280" y="251" width="11" height="11" fill="#c79040"/><rect x="291" y="251" width="11" height="11" fill="#f5f4f0"/><rect x="302" y="251" width="12" height="11" fill="#f5efdc"/><rect x="314" y="251" width="11" height="11" fill="#7fccc0"/><rect x="325" y="251" width="11" height="11" fill="#f5f5f4"/><rect x="336" y="251" width="11" height="11" fill="#e1c684"/><rect x="347" y="251" width="11" height="11" fill="#87d0c5"/><rect x="358" y="251" width="11" height="11" fill="#f5efdc"/>
<rect x="103" y="262" width="11" height="11" fill="#ebf3f2"/><rect x="114" y="262" width="11" height="11" fill="#f6edd7"/><rect x="125" y="262" width="11" height="11" fill="#f6e8c3"/><rect x="136" y="262" width="11" height="11" fill="#c7eae5"/><rect x="147" y="262" width="11" height="11" fill="#f5f4f0"/><rect x="158" y="262" width="11" height="11" fill="#f5f5f4"/><rect x="169" y="262" width="12" height="11" fill="#f5f4f0"/><rect x="181" y="262" width="11" height="11" fill="#f6edd7"/><rect x="192" y="262" width="11" height="11" fill="#f6e8c3"/><rect x="203" y="262" width="11" height="11" fill="#c7eae5"/><rect x="214" y="262" width="11" height="11" fill="#f5efdc"/><rect x="225" y="262" width="11" height="11" fill="#def0ed"/><rect x="236" y="262" width="11" height="11" fill="#d7eeeb"/><rect x="247" y="262" width="11" height="11" fill="#f6ebcf"/><rect x="258" y="262" width="11" height="11" fill="#f5f0e0"/><rect x="269" y="262" width="11" height="11" fill="#d7b169"/><rect x="280" y="262" width="11" height="11" fill="#f6edd7"/><rect x="291" y="262" width="11" height="11" fill="#dcbc75"/><rect x="302" y="262" width="12" height="11" fill="#f6e8c3"/><rect x="314" y="262" width="11" height="11" fill="#a3dbd3"/><rect x="325" y="262" width="11" height="11" fill="#f6e9c7"/><rect x="336" y="262" width="11" height="11" fill="#f5f5f4"/><rect x="347" y="262" width="11" height="11" fill="#5bb3a8"/><rect x="358" y="262" width="11" height="11" fill="#f5efdc"/>
<rect x="103" y="273" width="22" height="11" fill="#f5f5f4"/><rect x="125" y="273" width="11" height="11" fill="#f5f4f0"/><rect x="136" y="273" width="11" height="11" fill="#f5f5f4"/><rect x="147" y="273" width="11" height="11" fill="#f6ebcf"/><rect x="158" y="273" width="11" height="11" fill="#f5f5f4"/><rect x="169" y="273" width="12" height="11" fill="#f5efdc"/><rect x="181" y="273" width="11" height="11" fill="#d7eeeb"/><rect x="192" y="273" width="11" height="11" fill="#f6e9c7"/><rect x="203" y="273" width="11" height="11" fill="#e9f2f1"/><rect x="214" y="273" width="11" height="11" fill="#f5f0e0"/><rect x="225" y="273" width="11" height="11" fill="#eff3f3"/><rect x="236" y="273" width="11" height="11" fill="#e2f0ee"/><rect x="247" y="273" width="11" height="11" fill="#e9f2f1"/><rect x="258" y="273" width="11" height="11" fill="#f6ebcf"/><rect x="269" y="273" width="11" height="11" fill="#d9b76f"/><rect x="280" y="273" width="11" height="11" fill="#dec17b"/><rect x="291" y="273" width="11" height="11" fill="#d7eeeb"/><rect x="302" y="273" width="12" height="11" fill="#f6e8c3"/><rect x="314" y="273" width="11" height="11" fill="#e2f0ee"/><rect x="325" y="273" width="11" height="11" fill="#f3e4bb"/><rect x="336" y="273" width="11" height="11" fill="#e2f0ee"/><rect x="347" y="273" width="11" height="11" fill="#f5f5f4"/><rect x="358" y="273" width="11" height="11" fill="#f5efdc"/>
<rect x="103" y="284" width="11" height="11" fill="#f5f5f4"/><rect x="114" y="284" width="11" height="11" fill="#def0ed"/><rect x="125" y="284" width="11" height="11" fill="#f5efdc"/><rect x="136" y="284" width="11" height="11" fill="#e2f0ee"/><rect x="147" y="284" width="11" height="11" fill="#e7f2f0"/><rect x="158" y="284" width="11" height="11" fill="#f6e9c7"/><rect x="169" y="284" width="12" height="11" fill="#f5efdc"/><rect x="181" y="284" width="11" height="11" fill="#ead59f"/><rect x="192" y="284" width="11" height="11" fill="#f3e4bb"/><rect x="203" y="284" width="11" height="11" fill="#92d4ca"/><rect x="214" y="284" width="11" height="11" fill="#f5f3ee"/><rect x="225" y="284" width="11" height="11" fill="#bce5df"/><rect x="236" y="284" width="11" height="11" fill="#e2f0ee"/><rect x="247" y="284" width="11" height="11" fill="#f6ebcf"/><rect x="258" y="284" width="11" height="11" fill="#e2f0ee"/><rect x="269" y="284" width="11" height="11" fill="#8b500a"/><rect x="280" y="284" width="11" height="11" fill="#f3e4bb"/><rect x="291" y="284" width="11" height="11" fill="#d9eeeb"/><rect x="302" y="284" width="12" height="11" fill="#def0ed"/><rect x="314" y="284" width="11" height="11" fill="#f5f2e8"/><rect x="325" y="284" width="11" height="11" fill="#f6ebcf"/><rect x="336" y="284" width="11" height="11" fill="#f6e9c7"/><rect x="347" y="284" width="11" height="11" fill="#e2f0ee"/><rect x="358" y="284" width="11" height="11" fill="#f5f5f4"/>
</g>
<rect x="103.5" y="29.5" width="266.0" height="266.0" fill="none" stroke="#000" stroke-width="1.1"/>
<path d="M109.5 296.0v4.7M103.0 35.5h-4.9M164.5 296.0v4.7M103.0 90.5h-4.9M219.5 296.0v4.7M103.0 145.5h-4.9M275.5 296.0v4.7M103.0 201.5h-4.9M330.5 296.0v4.7M103.0 256.5h-4.9" stroke="#000" stroke-width="1.1" fill="none"/>
<rect x="103.5" y="380.5" width="266.0" height="14" fill="url(#g)" stroke="#000" stroke-width="1.1"/>
<path d="M143.5 395v4.4M189.5 395v4.4M236.5 395v4.4M283.5 395v4.4M329.5 395v4.4" stroke="#000" stroke-width="1.1" fill="none"/>
<g shape-rendering="crispEdges">
<rect x="411" y="29" width="11" height="11" fill="#f5f5f4"/><rect x="422" y="29" width="11" height="11" fill="#f6edd5"/><rect x="433" y="29" width="11" height="11" fill="#e2f0ee"/><rect x="444" y="29" width="11" height="11" fill="#f5f5f4"/><rect x="455" y="29" width="11" height="11" fill="#543005"/><rect x="466" y="29" width="11" height="11" fill="#f5f2ea"/><rect x="477" y="29" width="12" height="11" fill="#d7eeeb"/><rect x="489" y="29" width="11" height="11" fill="#e2f0ee"/><rect x="500" y="29" width="11" height="11" fill="#f5f2e8"/><rect x="511" y="29" width="11" height="11" fill="#f5f3ee"/><rect x="522" y="29" width="11" height="11" fill="#f6e8c3"/><rect x="533" y="29" width="11" height="11" fill="#e6f1f0"/><rect x="544" y="29" width="11" height="11" fill="#f5f2e8"/><rect x="555" y="29" width="11" height="11" fill="#f5efdc"/><rect x="566" y="29" width="11" height="11" fill="#eff3f3"/><rect x="577" y="29" width="11" height="11" fill="#cc9a4c"/><rect x="588" y="29" width="11" height="11" fill="#edd9a8"/><rect x="599" y="29" width="11" height="11" fill="#ceece8"/><rect x="610" y="29" width="12" height="11" fill="#f6edd5"/><rect x="622" y="29" width="11" height="11" fill="#d2ede9"/><rect x="633" y="29" width="11" height="11" fill="#f6edd5"/><rect x="644" y="29" width="11" height="11" fill="#d2ede9"/><rect x="655" y="29" width="11" height="11" fill="#ebf3f2"/><rect x="666" y="29" width="11" height="11" fill="#e9f2f1"/>
<rect x="411" y="40" width="11" height="11" fill="#f5f2ea"/><rect x="422" y="40" width="11" height="11" fill="#f5f5f4"/><rect x="433" y="40" width="11" height="11" fill="#d9eeeb"/><rect x="444" y="40" width="11" height="11" fill="#e2f0ee"/><rect x="455" y="40" width="11" height="11" fill="#f6ebcf"/><rect x="466" y="40" width="11" height="11" fill="#e7cf94"/><rect x="477" y="40" width="12" height="11" fill="#f5f1e6"/><rect x="489" y="40" width="11" height="11" fill="#bf812d"/><rect x="500" y="40" width="11" height="11" fill="#a3dbd3"/><rect x="511" y="40" width="11" height="11" fill="#c48b3a"/><rect x="522" y="40" width="11" height="11" fill="#f5f3ee"/><rect x="533" y="40" width="11" height="11" fill="#92d4ca"/><rect x="544" y="40" width="11" height="11" fill="#e6f1f0"/><rect x="555" y="40" width="11" height="11" fill="#ead59f"/><rect x="566" y="40" width="11" height="11" fill="#e6f1f0"/><rect x="577" y="40" width="11" height="11" fill="#cc9a4c"/><rect x="588" y="40" width="11" height="11" fill="#e7f2f0"/><rect x="599" y="40" width="11" height="11" fill="#f5f0e0"/><rect x="610" y="40" width="12" height="11" fill="#f6ebcf"/><rect x="622" y="40" width="11" height="11" fill="#92d4ca"/><rect x="633" y="40" width="11" height="11" fill="#f6ebcf"/><rect x="644" y="40" width="11" height="11" fill="#e6f1f0"/><rect x="655" y="40" width="11" height="11" fill="#d9eeeb"/><rect x="666" y="40" width="11" height="11" fill="#e2f0ee"/>
<rect x="411" y="51" width="11" height="11" fill="#f6e8c3"/><rect x="422" y="51" width="11" height="11" fill="#f5f1e4"/><rect x="433" y="51" width="11" height="11" fill="#f5f5f4"/><rect x="444" y="51" width="11" height="11" fill="#e7cf94"/><rect x="455" y="51" width="11" height="11" fill="#f6ebcf"/><rect x="466" y="51" width="11" height="11" fill="#e2f0ee"/><rect x="477" y="51" width="12" height="11" fill="#f6e8c3"/><rect x="489" y="51" width="11" height="11" fill="#f5f5f4"/><rect x="500" y="51" width="11" height="11" fill="#f5f0e0"/><rect x="511" y="51" width="11" height="11" fill="#f5f2e8"/><rect x="522" y="51" width="11" height="11" fill="#e7cf94"/><rect x="533" y="51" width="11" height="11" fill="#f6edd7"/><rect x="544" y="51" width="11" height="11" fill="#f3e4bb"/><rect x="555" y="51" width="11" height="11" fill="#f5f4f0"/><rect x="566" y="51" width="11" height="11" fill="#f6edd5"/><rect x="577" y="51" width="11" height="11" fill="#ead59f"/><rect x="588" y="51" width="22" height="11" fill="#d9eeeb"/><rect x="610" y="51" width="12" height="11" fill="#f6e9c7"/><rect x="622" y="51" width="11" height="11" fill="#92d4ca"/><rect x="633" y="51" width="11" height="11" fill="#f5f4f0"/><rect x="644" y="51" width="11" height="11" fill="#d9eeeb"/><rect x="655" y="51" width="22" height="11" fill="#f5f0e0"/>
<rect x="411" y="62" width="22" height="11" fill="#f6ebcf"/><rect x="433" y="62" width="11" height="11" fill="#e2f0ee"/><rect x="444" y="62" width="11" height="11" fill="#f5f5f4"/><rect x="455" y="62" width="11" height="11" fill="#f5f2ea"/><rect x="466" y="62" width="11" height="11" fill="#ceece8"/><rect x="477" y="62" width="12" height="11" fill="#d9eeeb"/><rect x="489" y="62" width="11" height="11" fill="#874e0a"/><rect x="500" y="62" width="11" height="11" fill="#ebf3f2"/><rect x="511" y="62" width="11" height="11" fill="#ead59f"/><rect x="522" y="62" width="11" height="11" fill="#f6edd7"/><rect x="533" y="62" width="11" height="11" fill="#def0ed"/><rect x="544" y="62" width="11" height="11" fill="#e7f2f0"/><rect x="555" y="62" width="11" height="11" fill="#f5f4f0"/><rect x="566" y="62" width="11" height="11" fill="#f5f5f4"/><rect x="577" y="62" width="11" height="11" fill="#bf812d"/><rect x="588" y="62" width="11" height="11" fill="#f5f2ea"/><rect x="599" y="62" width="11" height="11" fill="#eff3f3"/><rect x="610" y="62" width="12" height="11" fill="#f6ebcf"/><rect x="622" y="62" width="11" height="11" fill="#f5f5f4"/><rect x="633" y="62" width="11" height="11" fill="#f5f1e6"/><rect x="644" y="62" width="22" height="11" fill="#def0ed"/><rect x="666" y="62" width="11" height="11" fill="#c7eae5"/>
<rect x="411" y="73" width="11" height="11" fill="#f6e8c3"/><rect x="422" y="73" width="11" height="11" fill="#f5efdc"/><rect x="433" y="73" width="11" height="11" fill="#b6e3dd"/><rect x="444" y="73" width="11" height="11" fill="#c7eae5"/><rect x="455" y="73" width="11" height="11" fill="#f5f5f4"/><rect x="466" y="73" width="11" height="11" fill="#eff3f3"/><rect x="477" y="73" width="12" height="11" fill="#def0ed"/><rect x="489" y="73" width="11" height="11" fill="#f5f0e0"/><rect x="500" y="73" width="11" height="11" fill="#93580f"/><rect x="511" y="73" width="11" height="11" fill="#f5f1e4"/><rect x="522" y="73" width="11" height="11" fill="#f6e9c7"/><rect x="533" y="73" width="11" height="11" fill="#e9f2f1"/><rect x="544" y="73" width="11" height="11" fill="#bce5df"/><rect x="555" y="73" width="11" height="11" fill="#f5f3ee"/><rect x="566" y="73" width="11" height="11" fill="#e9f2f1"/><rect x="577" y="73" width="11" height="11" fill="#cea053"/><rect x="588" y="73" width="11" height="11" fill="#ead59f"/><rect x="599" y="73" width="11" height="11" fill="#c7eae5"/><rect x="610" y="73" width="12" height="11" fill="#f6e8c3"/><rect x="622" y="73" width="11" height="11" fill="#a3dbd3"/><rect x="633" y="73" width="11" height="11" fill="#f6ebcf"/><rect x="644" y="73" width="11" height="11" fill="#e2f0ee"/><rect x="655" y="73" width="11" height="11" fill="#e7f2f0"/><rect x="666" y="73" width="11" height="11" fill="#f5f4f0"/>
<rect x="411" y="84" width="11" height="11" fill="#e2f0ee"/><rect x="422" y="84" width="11" height="11" fill="#f6e8c3"/><rect x="433" y="84" width="11" height="11" fill="#def0ed"/><rect x="444" y="84" width="11" height="11" fill="#b6e3dd"/><rect x="455" y="84" width="11" height="11" fill="#f6edd5"/><rect x="466" y="84" width="11" height="11" fill="#f5f5f4"/><rect x="477" y="84" width="12" height="11" fill="#f5f4f0"/><rect x="489" y="84" width="11" height="11" fill="#d9b76f"/><rect x="500" y="84" width="11" height="11" fill="#c7eae5"/><rect x="511" y="84" width="11" height="11" fill="#874e0a"/><rect x="522" y="84" width="11" height="11" fill="#f6edd7"/><rect x="533" y="84" width="11" height="11" fill="#ceece8"/><rect x="544" y="84" width="11" height="11" fill="#cbebe6"/><rect x="555" y="84" width="11" height="11" fill="#f6edd5"/><rect x="566" y="84" width="11" height="11" fill="#e9f2f1"/><rect x="577" y="84" width="11" height="11" fill="#ead59f"/><rect x="588" y="84" width="11" height="11" fill="#e9f2f1"/><rect x="599" y="84" width="11" height="11" fill="#ead59f"/><rect x="610" y="84" width="12" height="11" fill="#f6edd5"/><rect x="622" y="84" width="11" height="11" fill="#f5f5f4"/><rect x="633" y="84" width="11" height="11" fill="#f5f1e4"/><rect x="644" y="84" width="11" height="11" fill="#d9eeeb"/><rect x="655" y="84" width="22" height="11" fill="#ceece8"/>
<rect x="411" y="95" width="11" height="12" fill="#f5f2e8"/><rect x="422" y="95" width="11" height="12" fill="#eff3f3"/><rect x="433" y="95" width="11" height="12" fill="#f5f2ea"/><rect x="444" y="95" width="11" height="12" fill="#f5f0e0"/><rect x="455" y="95" width="11" height="12" fill="#f6e9c7"/><rect x="466" y="95" width="11" height="12" fill="#f5f2e8"/><rect x="477" y="95" width="12" height="12" fill="#f5f5f4"/><rect x="489" y="95" width="11" height="12" fill="#cbebe6"/><rect x="500" y="95" width="11" height="12" fill="#f5f4f0"/><rect x="511" y="95" width="11" height="12" fill="#f5f5f4"/><rect x="522" y="95" width="11" height="12" fill="#6e4007"/><rect x="533" y="95" width="11" height="12" fill="#f6edd5"/><rect x="544" y="95" width="11" height="12" fill="#f5f5f4"/><rect x="555" y="95" width="11" height="12" fill="#f5f0e0"/><rect x="566" y="95" width="11" height="12" fill="#ebf3f2"/><rect x="577" y="95" width="11" height="12" fill="#f6edd5"/><rect x="588" y="95" width="11" height="12" fill="#f5f1e6"/><rect x="599" y="95" width="11" height="12" fill="#def0ed"/><rect x="610" y="95" width="12" height="12" fill="#ead59f"/><rect x="622" y="95" width="11" height="12" fill="#e2f0ee"/><rect x="633" y="95" width="11" height="12" fill="#f5f0e0"/><rect x="644" y="95" width="11" height="12" fill="#d2ede9"/><rect x="655" y="95" width="11" height="12" fill="#f6edd5"/><rect x="666" y="95" width="11" height="12" fill="#e7f2f0"/>
<rect x="411" y="107" width="11" height="11" fill="#f5f5f4"/><rect x="422" y="107" width="11" height="11" fill="#e9f2f1"/><rect x="433" y="107" width="11" height="11" fill="#c7eae5"/><rect x="444" y="107" width="11" height="11" fill="#f6edd5"/><rect x="455" y="107" width="11" height="11" fill="#f0f4f3"/><rect x="466" y="107" width="23" height="11" fill="#c7eae5"/><rect x="489" y="107" width="22" height="11" fill="#f5f5f4"/><rect x="511" y="107" width="11" height="11" fill="#bf812d"/><rect x="522" y="107" width="11" height="11" fill="#f6e8c3"/><rect x="533" y="107" width="11" height="11" fill="#f6ebcf"/><rect x="544" y="107" width="22" height="11" fill="#e2f0ee"/><rect x="566" y="107" width="11" height="11" fill="#f5f5f4"/><rect x="577" y="107" width="11" height="11" fill="#dec17b"/><rect x="588" y="107" width="11" height="11" fill="#f5f2e8"/><rect x="599" y="107" width="11" height="11" fill="#f5f1e6"/><rect x="610" y="107" width="12" height="11" fill="#f6ebcf"/><rect x="622" y="107" width="11" height="11" fill="#f5f4f0"/><rect x="633" y="107" width="11" height="11" fill="#f5f2ea"/><rect x="644" y="107" width="11" height="11" fill="#f5f4f0"/><rect x="655" y="107" width="11" height="11" fill="#e9f2f1"/><rect x="666" y="107" width="11" height="11" fill="#c7eae5"/>
<rect x="411" y="118" width="11" height="11" fill="#ceece8"/><rect x="422" y="118" width="11" height="11" fill="#f5f5f4"/><rect x="433" y="118" width="22" height="11" fill="#c7eae5"/><rect x="455" y="118" width="11" height="11" fill="#774508"/><rect x="466" y="118" width="11" height="11" fill="#d7eeeb"/><rect x="477" y="118" width="12" height="11" fill="#b6e3dd"/><rect x="489" y="118" width="11" height="11" fill="#dec17b"/><rect x="500" y="118" width="11" height="11" fill="#f5f5f4"/><rect x="511" y="118" width="11" height="11" fill="#d7b169"/><rect x="522" y="118" width="11" height="11" fill="#ead59f"/><rect x="533" y="118" width="11" height="11" fill="#c7eae5"/><rect x="544" y="118" width="11" height="11" fill="#bce5df"/><rect x="555" y="118" width="11" height="11" fill="#f5f5f4"/><rect x="566" y="118" width="11" height="11" fill="#f5f0e0"/><rect x="577" y="118" width="11" height="11" fill="#dec17b"/><rect x="588" y="118" width="11" height="11" fill="#f5f1e4"/><rect x="599" y="118" width="11" height="11" fill="#e2f0ee"/><rect x="610" y="118" width="12" height="11" fill="#f6e9c7"/><rect x="622" y="118" width="11" height="11" fill="#bfe7e1"/><rect x="633" y="118" width="11" height="11" fill="#e7cf94"/><rect x="644" y="118" width="11" height="11" fill="#f5f5f4"/><rect x="655" y="118" width="11" height="11" fill="#d7eeeb"/><rect x="666" y="118" width="11" height="11" fill="#e7f2f0"/>
<rect x="411" y="129" width="11" height="11" fill="#ebf3f2"/><rect x="422" y="129" width="11" height="11" fill="#f5f0e0"/><rect x="433" y="129" width="11" height="11" fill="#c7eae5"/><rect x="444" y="129" width="11" height="11" fill="#6dbfb4"/><rect x="455" y="129" width="11" height="11" fill="#f5f5f4"/><rect x="466" y="129" width="11" height="11" fill="#f6edd5"/><rect x="477" y="129" width="12" height="11" fill="#f5f5f4"/><rect x="489" y="129" width="11" height="11" fill="#824b09"/><rect x="500" y="129" width="11" height="11" fill="#f6e9c7"/><rect x="511" y="129" width="11" height="11" fill="#f5f5f4"/><rect x="522" y="129" width="11" height="11" fill="#f6e9c7"/><rect x="533" y="129" width="11" height="11" fill="#cbebe6"/><rect x="544" y="129" width="11" height="11" fill="#aee0d8"/><rect x="555" y="129" width="11" height="11" fill="#f5f5f4"/><rect x="566" y="129" width="11" height="11" fill="#f5f2e8"/><rect x="577" y="129" width="11" height="11" fill="#d2a75c"/><rect x="588" y="129" width="11" height="11" fill="#d7eeeb"/><rect x="599" y="129" width="11" height="11" fill="#f5efdc"/><rect x="610" y="129" width="12" height="11" fill="#f6ebcf"/><rect x="622" y="129" width="11" height="11" fill="#d7eeeb"/><rect x="633" y="129" width="11" height="11" fill="#ead59f"/><rect x="644" y="129" width="11" height="11" fill="#f6ebcf"/><rect x="655" y="129" width="11" height="11" fill="#def0ed"/><rect x="666" y="129" width="11" height="11" fill="#c7eae5"/>
<rect x="411" y="140" width="11" height="11" fill="#f5f5f4"/><rect x="422" y="140" width="11" height="11" fill="#e7f2f0"/><rect x="433" y="140" width="11" height="11" fill="#a3dbd3"/><rect x="444" y="140" width="11" height="11" fill="#e6f1f0"/><rect x="455" y="140" width="11" height="11" fill="#f2e2b8"/><rect x="466" y="140" width="11" height="11" fill="#d7eeeb"/><rect x="477" y="140" width="12" height="11" fill="#edd9a8"/><rect x="489" y="140" width="11" height="11" fill="#def0ed"/><rect x="500" y="140" width="11" height="11" fill="#dec17b"/><rect x="511" y="140" width="11" height="11" fill="#f6edd7"/><rect x="522" y="140" width="11" height="11" fill="#f5f5f4"/><rect x="533" y="140" width="11" height="11" fill="#dec17b"/><rect x="544" y="140" width="11" height="11" fill="#ceece8"/><rect x="555" y="140" width="11" height="11" fill="#f5f0e0"/><rect x="566" y="140" width="11" height="11" fill="#ebf3f2"/><rect x="577" y="140" width="11" height="11" fill="#e8d29a"/><rect x="588" y="140" width="11" height="11" fill="#f5f5f4"/><rect x="599" y="140" width="11" height="11" fill="#e9f2f1"/><rect x="610" y="140" width="12" height="11" fill="#f6e8c3"/><rect x="622" y="140" width="11" height="11" fill="#bfe7e1"/><rect x="633" y="140" width="11" height="11" fill="#f6e8c3"/><rect x="644" y="140" width="11" height="11" fill="#def0ed"/><rect x="655" y="140" width="11" height="11" fill="#f0deb0"/><rect x="666" y="140" width="11" height="11" fill="#d9eeeb"/>
<rect x="411" y="151" width="11" height="11" fill="#eff3f3"/><rect x="422" y="151" width="11" height="11" fill="#d9eeeb"/><rect x="433" y="151" width="11" height="11" fill="#d7eeeb"/><rect x="444" y="151" width="11" height="11" fill="#def0ed"/><rect x="455" y="151" width="11" height="11" fill="#eff3f3"/><rect x="466" y="151" width="23" height="11" fill="#c7eae5"/><rect x="489" y="151" width="11" height="11" fill="#a5691b"/><rect x="500" y="151" width="11" height="11" fill="#f5f3ee"/><rect x="511" y="151" width="11" height="11" fill="#d3aa5f"/><rect x="522" y="151" width="11" height="11" fill="#ead59f"/><rect x="533" y="151" width="11" height="11" fill="#f5f5f4"/><rect x="544" y="151" width="11" height="11" fill="#e7f2f0"/><rect x="555" y="151" width="11" height="11" fill="#f5f5f4"/><rect x="566" y="151" width="11" height="11" fill="#f5f4f0"/><rect x="577" y="151" width="11" height="11" fill="#e8d29a"/><rect x="588" y="151" width="11" height="11" fill="#f5f4f0"/><rect x="599" y="151" width="11" height="11" fill="#f5f3ee"/><rect x="610" y="151" width="12" height="11" fill="#f6e9c7"/><rect x="622" y="151" width="11" height="11" fill="#e2f0ee"/><rect x="633" y="151" width="11" height="11" fill="#f6edd7"/><rect x="644" y="151" width="11" height="11" fill="#f5efdc"/><rect x="655" y="151" width="11" height="11" fill="#ceece8"/><rect x="666" y="151" width="11" height="11" fill="#e7f2f0"/>
<rect x="411" y="162" width="11" height="11" fill="#e1c684"/><rect x="422" y="162" width="11" height="11" fill="#f6ebcf"/><rect x="433" y="162" width="11" height="11" fill="#d2ede9"/><rect x="444" y="162" width="11" height="11" fill="#f5f4f0"/><rect x="455" y="162" width="11" height="11" fill="#f6e9c7"/><rect x="466" y="162" width="11" height="11" fill="#f5f5f4"/><rect x="477" y="162" width="23" height="11" fill="#c7eae5"/><rect x="500" y="162" width="11" height="11" fill="#f5f2ea"/><rect x="511" y="162" width="11" height="11" fill="#def0ed"/><rect x="522" y="162" width="11" height="11" fill="#f6ebcf"/><rect x="533" y="162" width="11" height="11" fill="#f5f4f0"/><rect x="544" y="162" width="11" height="11" fill="#f0f4f3"/><rect x="555" y="162" width="22" height="11" fill="#f6e8c3"/><rect x="577" y="162" width="11" height="11" fill="#e8d29a"/><rect x="588" y="162" width="11" height="11" fill="#e1c684"/><rect x="599" y="162" width="11" height="11" fill="#def0ed"/><rect x="610" y="162" width="12" height="11" fill="#f5f0e0"/><rect x="622" y="162" width="11" height="11" fill="#b6e3dd"/><rect x="633" y="162" width="11" height="11" fill="#dec17b"/><rect x="644" y="162" width="11" height="11" fill="#f5f5f4"/><rect x="655" y="162" width="11" height="11" fill="#f6ebcf"/><rect x="666" y="162" width="11" height="11" fill="#f5f1e4"/>
<rect x="411" y="173" width="11" height="11" fill="#f6edd7"/><rect x="422" y="173" width="11" height="11" fill="#f6e9c7"/><rect x="433" y="173" width="11" height="11" fill="#def0ed"/><rect x="444" y="173" width="11" height="11" fill="#a3dbd3"/><rect x="455" y="173" width="11" height="11" fill="#f5f5f4"/><rect x="466" y="173" width="11" height="11" fill="#f5efdc"/><rect x="477" y="173" width="12" height="11" fill="#d9eeeb"/><rect x="489" y="173" width="11" height="11" fill="#e1c684"/><rect x="500" y="173" width="11" height="11" fill="#def0ed"/><rect x="511" y="173" width="11" height="11" fill="#ead59f"/><rect x="522" y="173" width="11" height="11" fill="#f6ebcf"/><rect x="533" y="173" width="22" height="11" fill="#c7eae5"/><rect x="555" y="173" width="11" height="11" fill="#f5f5f4"/><rect x="566" y="173" width="11" height="11" fill="#eff3f3"/><rect x="577" y="173" width="11" height="11" fill="#b17423"/><rect x="588" y="173" width="11" height="11" fill="#ebf3f2"/><rect x="599" y="173" width="11" height="11" fill="#b17423"/><rect x="610" y="173" width="12" height="11" fill="#f6eacb"/><rect x="622" y="173" width="11" height="11" fill="#d9eeeb"/><rect x="633" y="173" width="11" height="11" fill="#f5efdc"/><rect x="644" y="173" width="11" height="11" fill="#f5f4f0"/><rect x="655" y="173" width="11" height="11" fill="#f0f4f3"/><rect x="666" y="173" width="11" height="11" fill="#e6f1f0"/>
<rect x="411" y="184" width="11" height="11" fill="#f6e8c3"/><rect x="422" y="184" width="11" height="11" fill="#f6e9c7"/><rect x="433" y="184" width="11" height="11" fill="#f6edd7"/><rect x="444" y="184" width="11" height="11" fill="#c7eae5"/><rect x="455" y="184" width="11" height="11" fill="#f6edd5"/><rect x="466" y="184" width="11" height="11" fill="#cbebe6"/><rect x="477" y="184" width="12" height="11" fill="#e6f1f0"/><rect x="489" y="184" width="11" height="11" fill="#def0ed"/><rect x="500" y="184" width="11" height="11" fill="#e7cf94"/><rect x="511" y="184" width="22" height="11" fill="#f5f2e8"/><rect x="533" y="184" width="11" height="11" fill="#def0ed"/><rect x="544" y="184" width="11" height="11" fill="#f6e8c3"/><rect x="555" y="184" width="11" height="11" fill="#f5f3ee"/><rect x="566" y="184" width="11" height="11" fill="#f5f5f4"/><rect x="577" y="184" width="11" height="11" fill="#774508"/><rect x="588" y="184" width="11" height="11" fill="#f5f5f4"/><rect x="599" y="184" width="11" height="11" fill="#e2f0ee"/><rect x="610" y="184" width="12" height="11" fill="#e7cf94"/><rect x="622" y="184" width="11" height="11" fill="#6dbfb4"/><rect x="633" y="184" width="11" height="11" fill="#dec17b"/><rect x="644" y="184" width="11" height="11" fill="#9dd9d0"/><rect x="655" y="184" width="11" height="11" fill="#edd9a8"/><rect x="666" y="184" width="11" height="11" fill="#f5f0e0"/>
<rect x="411" y="195" width="11" height="11" fill="#f5efdc"/><rect x="422" y="195" width="11" height="11" fill="#f6e9c7"/><rect x="433" y="195" width="11" height="11" fill="#c7eae5"/><rect x="444" y="195" width="11" height="11" fill="#def0ed"/><rect x="455" y="195" width="11" height="11" fill="#f6e8c3"/><rect x="466" y="195" width="11" height="11" fill="#a3dbd3"/><rect x="477" y="195" width="12" height="11" fill="#e2f0ee"/><rect x="489" y="195" width="11" height="11" fill="#d2a75c"/><rect x="500" y="195" width="11" height="11" fill="#f5f5f4"/><rect x="511" y="195" width="11" height="11" fill="#e5cc8f"/><rect x="522" y="195" width="11" height="11" fill="#f6edd5"/><rect x="533" y="195" width="11" height="11" fill="#bce5df"/><rect x="544" y="195" width="11" height="11" fill="#c7eae5"/><rect x="555" y="195" width="22" height="11" fill="#f5efdc"/><rect x="577" y="195" width="11" height="11" fill="#f5f5f4"/><rect x="588" y="195" width="11" height="11" fill="#e9f2f1"/><rect x="599" y="195" width="11" height="11" fill="#f6ebcf"/><rect x="610" y="195" width="12" height="11" fill="#f6e9c7"/><rect x="622" y="195" width="11" height="11" fill="#f5f2e8"/><rect x="633" y="195" width="11" height="11" fill="#f6edd5"/><rect x="644" y="195" width="11" height="11" fill="#def0ed"/><rect x="655" y="195" width="11" height="11" fill="#d7eeeb"/><rect x="666" y="195" width="11" height="11" fill="#eff3f3"/>
<rect x="411" y="206" width="11" height="11" fill="#f0deb0"/><rect x="422" y="206" width="11" height="11" fill="#f5f2e8"/><rect x="433" y="206" width="11" height="11" fill="#def0ed"/><rect x="444" y="206" width="11" height="11" fill="#bfe7e1"/><rect x="455" y="206" width="11" height="11" fill="#edd9a8"/><rect x="466" y="206" width="11" height="11" fill="#e2f0ee"/><rect x="477" y="206" width="12" height="11" fill="#d9eeeb"/><rect x="489" y="206" width="11" height="11" fill="#f5f5f4"/><rect x="500" y="206" width="11" height="11" fill="#def0ed"/><rect x="511" y="206" width="11" height="11" fill="#f0deb0"/><rect x="522" y="206" width="11" height="11" fill="#f6ebcf"/><rect x="533" y="206" width="11" height="11" fill="#f5f2e8"/><rect x="544" y="206" width="11" height="11" fill="#d7eeeb"/><rect x="555" y="206" width="11" height="11" fill="#f5f1e6"/><rect x="566" y="206" width="11" height="11" fill="#eff3f3"/><rect x="577" y="206" width="11" height="11" fill="#ca9849"/><rect x="588" y="206" width="11" height="11" fill="#f5f5f4"/><rect x="599" y="206" width="11" height="11" fill="#f5f1e6"/><rect x="610" y="206" width="12" height="11" fill="#f6eacb"/><rect x="622" y="206" width="11" height="11" fill="#ebf3f2"/><rect x="633" y="206" width="11" height="11" fill="#b17423"/><rect x="644" y="206" width="11" height="11" fill="#e7f2f0"/><rect x="655" y="206" width="22" height="11" fill="#e6f1f0"/>
<rect x="411" y="217" width="11" height="11" fill="#f6edd5"/><rect x="422" y="217" width="11" height="11" fill="#ebf3f2"/><rect x="433" y="217" width="11" height="11" fill="#def0ed"/><rect x="444" y="217" width="11" height="11" fill="#92d4ca"/><rect x="455" y="217" width="11" height="11" fill="#e7f2f0"/><rect x="466" y="217" width="11" height="11" fill="#f6e8c3"/><rect x="477" y="217" width="12" height="11" fill="#f5f5f4"/><rect x="489" y="217" width="11" height="11" fill="#ead59f"/><rect x="500" y="217" width="11" height="11" fill="#d9eeeb"/><rect x="511" y="217" width="11" height="11" fill="#e1c684"/><rect x="522" y="217" width="11" height="11" fill="#f5f0e0"/><rect x="533" y="217" width="11" height="11" fill="#e2f0ee"/><rect x="544" y="217" width="11" height="11" fill="#98d7cd"/><rect x="555" y="217" width="11" height="11" fill="#b97b29"/><rect x="566" y="217" width="11" height="11" fill="#e7f2f0"/><rect x="577" y="217" width="11" height="11" fill="#d3aa5f"/><rect x="588" y="217" width="11" height="11" fill="#f5f4f0"/><rect x="599" y="217" width="11" height="11" fill="#f5f5f4"/><rect x="610" y="217" width="12" height="11" fill="#f6edd5"/><rect x="622" y="217" width="11" height="11" fill="#f5f1e6"/><rect x="633" y="217" width="11" height="11" fill="#f6eacb"/><rect x="644" y="217" width="11" height="11" fill="#f6ebcf"/><rect x="655" y="217" width="22" height="11" fill="#e7f2f0"/>
<rect x="411" y="228" width="11" height="12" fill="#f5efdc"/><rect x="422" y="228" width="11" height="12" fill="#ebf3f2"/><rect x="433" y="228" width="11" height="12" fill="#d9eeeb"/><rect x="444" y="228" width="11" height="12" fill="#f6edd5"/><rect x="455" y="228" width="11" height="12" fill="#f5f2e8"/><rect x="466" y="228" width="11" height="12" fill="#def0ed"/><rect x="477" y="228" width="12" height="12" fill="#eedbaa"/><rect x="489" y="228" width="11" height="12" fill="#def0ed"/><rect x="500" y="228" width="11" height="12" fill="#f6edd7"/><rect x="511" y="228" width="11" height="12" fill="#f6ebcf"/><rect x="522" y="228" width="11" height="12" fill="#e7cf94"/><rect x="533" y="228" width="11" height="12" fill="#f5f5f4"/><rect x="544" y="228" width="11" height="12" fill="#f5f2e8"/><rect x="555" y="228" width="11" height="12" fill="#f5efdc"/><rect x="566" y="228" width="11" height="12" fill="#f6e9c7"/><rect x="577" y="228" width="11" height="12" fill="#f6eacb"/><rect x="588" y="228" width="11" height="12" fill="#f5efdc"/><rect x="599" y="228" width="11" height="12" fill="#d2ede9"/><rect x="610" y="228" width="12" height="12" fill="#f5f5f4"/><rect x="622" y="228" width="11" height="12" fill="#f5f2ea"/><rect x="633" y="228" width="11" height="12" fill="#f6eacb"/><rect x="644" y="228" width="11" height="12" fill="#e2f0ee"/><rect x="655" y="228" width="11" height="12" fill="#ca9849"/><rect x="666" y="228" width="11" height="12" fill="#f5f1e4"/>
<rect x="411" y="240" width="11" height="11" fill="#f6edd5"/><rect x="422" y="240" width="11" height="11" fill="#e7f2f0"/><rect x="433" y="240" width="11" height="11" fill="#b6e3dd"/><rect x="444" y="240" width="11" height="11" fill="#f5f2e8"/><rect x="455" y="240" width="22" height="11" fill="#d2ede9"/><rect x="477" y="240" width="12" height="11" fill="#f5f1e4"/><rect x="489" y="240" width="11" height="11" fill="#cea053"/><rect x="500" y="240" width="11" height="11" fill="#def0ed"/><rect x="511" y="240" width="11" height="11" fill="#f6e9c7"/><rect x="522" y="240" width="11" height="11" fill="#f6edd5"/><rect x="533" y="240" width="11" height="11" fill="#f5f5f4"/><rect x="544" y="240" width="11" height="11" fill="#d7eeeb"/><rect x="555" y="240" width="11" height="11" fill="#f5f5f4"/><rect x="566" y="240" width="11" height="11" fill="#ebf3f2"/><rect x="577" y="240" width="11" height="11" fill="#a5691b"/><rect x="588" y="240" width="11" height="11" fill="#f5f5f4"/><rect x="599" y="240" width="11" height="11" fill="#f6e9c7"/><rect x="610" y="240" width="12" height="11" fill="#f6ebcf"/><rect x="622" y="240" width="11" height="11" fill="#f5f4f0"/><rect x="633" y="240" width="11" height="11" fill="#f5f2e8"/><rect x="644" y="240" width="11" height="11" fill="#eff3f3"/><rect x="655" y="240" width="11" height="11" fill="#f5f5f4"/><rect x="666" y="240" width="11" height="11" fill="#f5f1e6"/>
<rect x="411" y="251" width="22" height="11" fill="#f5f5f4"/><rect x="433" y="251" width="11" height="11" fill="#98d7cd"/><rect x="444" y="251" width="11" height="11" fill="#b6e3dd"/><rect x="455" y="251" width="11" height="11" fill="#f6e9c7"/><rect x="466" y="251" width="11" height="11" fill="#a3dbd3"/><rect x="477" y="251" width="12" height="11" fill="#ceece8"/><rect x="489" y="251" width="11" height="11" fill="#f5efdc"/><rect x="500" y="251" width="11" height="11" fill="#e7cf94"/><rect x="511" y="251" width="11" height="11" fill="#c48b3a"/><rect x="522" y="251" width="11" height="11" fill="#f5efdc"/><rect x="533" y="251" width="11" height="11" fill="#f5f5f4"/><rect x="544" y="251" width="11" height="11" fill="#d7eeeb"/><rect x="555" y="251" width="11" height="11" fill="#ebf3f2"/><rect x="566" y="251" width="11" height="11" fill="#f5efdc"/><rect x="577" y="251" width="11" height="11" fill="#cea053"/><rect x="588" y="251" width="11" height="11" fill="#bf812d"/><rect x="599" y="251" width="11" height="11" fill="#e2f0ee"/><rect x="610" y="251" width="12" height="11" fill="#f6eacb"/><rect x="622" y="251" width="11" height="11" fill="#e2f0ee"/><rect x="633" y="251" width="11" height="11" fill="#f5f5f4"/><rect x="644" y="251" width="11" height="11" fill="#f6eacb"/><rect x="655" y="251" width="11" height="11" fill="#f5f2ea"/><rect x="666" y="251" width="11" height="11" fill="#c7eae5"/>
<rect x="411" y="262" width="11" height="11" fill="#f5f1e6"/><rect x="422" y="262" width="11" height="11" fill="#e6f1f0"/><rect x="433" y="262" width="11" height="11" fill="#e2f0ee"/><rect x="444" y="262" width="11" height="11" fill="#aee0d8"/><rect x="455" y="262" width="11" height="11" fill="#f5f5f4"/><rect x="466" y="262" width="11" height="11" fill="#cbebe6"/><rect x="477" y="262" width="12" height="11" fill="#d2ede9"/><rect x="489" y="262" width="11" height="11" fill="#e5cc8f"/><rect x="500" y="262" width="11" height="11" fill="#e9f2f1"/><rect x="511" y="262" width="11" height="11" fill="#c79040"/><rect x="522" y="262" width="11" height="11" fill="#f5efdc"/><rect x="533" y="262" width="11" height="11" fill="#ebf3f2"/><rect x="544" y="262" width="11" height="11" fill="#cbebe6"/><rect x="555" y="262" width="11" height="11" fill="#f5efdc"/><rect x="566" y="262" width="11" height="11" fill="#f5f5f4"/><rect x="577" y="262" width="11" height="11" fill="#c79040"/><rect x="588" y="262" width="11" height="11" fill="#f5f5f4"/><rect x="599" y="262" width="11" height="11" fill="#d7b169"/><rect x="610" y="262" width="12" height="11" fill="#edd9a8"/><rect x="622" y="262" width="11" height="11" fill="#def0ed"/><rect x="633" y="262" width="11" height="11" fill="#cea053"/><rect x="644" y="262" width="11" height="11" fill="#f5f5f4"/><rect x="655" y="262" width="11" height="11" fill="#cbebe6"/><rect x="666" y="262" width="11" height="11" fill="#f5f1e4"/>
<rect x="411" y="273" width="11" height="11" fill="#f5efdc"/><rect x="422" y="273" width="11" height="11" fill="#f5f2e8"/><rect x="433" y="273" width="22" height="11" fill="#c7eae5"/><rect x="455" y="273" width="11" height="11" fill="#d2ede9"/><rect x="466" y="273" width="11" height="11" fill="#a3dbd3"/><rect x="477" y="273" width="12" height="11" fill="#def0ed"/><rect x="489" y="273" width="11" height="11" fill="#f6edd7"/><rect x="500" y="273" width="11" height="11" fill="#f6e9c7"/><rect x="511" y="273" width="11" height="11" fill="#ead59f"/><rect x="522" y="273" width="11" height="11" fill="#c48b3a"/><rect x="533" y="273" width="11" height="11" fill="#f5f3ee"/><rect x="544" y="273" width="11" height="11" fill="#f5f5f4"/><rect x="555" y="273" width="11" height="11" fill="#f5f4f0"/><rect x="566" y="273" width="11" height="11" fill="#f5efdc"/><rect x="577" y="273" width="11" height="11" fill="#f6ebcf"/><rect x="588" y="273" width="22" height="11" fill="#f5f5f4"/><rect x="610" y="273" width="12" height="11" fill="#e1c684"/><rect x="622" y="273" width="11" height="11" fill="#e2f0ee"/><rect x="633" y="273" width="11" height="11" fill="#d7b169"/><rect x="644" y="273" width="11" height="11" fill="#e9f2f1"/><rect x="655" y="273" width="11" height="11" fill="#f5f5f4"/><rect x="666" y="273" width="11" height="11" fill="#f3e4bb"/>
<rect x="411" y="284" width="11" height="11" fill="#ebf3f2"/><rect x="422" y="284" width="11" height="11" fill="#f6ebcf"/><rect x="433" y="284" width="11" height="11" fill="#e9f2f1"/><rect x="444" y="284" width="11" height="11" fill="#47a49b"/><rect x="455" y="284" width="11" height="11" fill="#ebf3f2"/><rect x="466" y="284" width="11" height="11" fill="#a3dbd3"/><rect x="477" y="284" width="12" height="11" fill="#c7eae5"/><rect x="489" y="284" width="11" height="11" fill="#e5cc8f"/><rect x="500" y="284" width="11" height="11" fill="#f6edd5"/><rect x="511" y="284" width="11" height="11" fill="#f6e8c3"/><rect x="522" y="284" width="11" height="11" fill="#f6e9c7"/><rect x="533" y="284" width="11" height="11" fill="#eedbaa"/><rect x="544" y="284" width="11" height="11" fill="#d7eeeb"/><rect x="555" y="284" width="11" height="11" fill="#f5f5f4"/><rect x="566" y="284" width="11" height="11" fill="#f5f0e0"/><rect x="577" y="284" width="11" height="11" fill="#a5691b"/><rect x="588" y="284" width="11" height="11" fill="#f5f3ee"/><rect x="599" y="284" width="11" height="11" fill="#f5f0e0"/><rect x="610" y="284" width="12" height="11" fill="#f6edd5"/><rect x="622" y="284" width="11" height="11" fill="#e6f1f0"/><rect x="633" y="284" width="11" height="11" fill="#eedbaa"/><rect x="644" y="284" width="11" height="11" fill="#f6edd5"/><rect x="655" y="284" width="11" height="11" fill="#f0f4f3"/><rect x="666" y="284" width="11" height="11" fill="#f5f5f4"/>
</g>
<rect x="411.5" y="29.5" width="266.0" height="266.0" fill="none" stroke="#000" stroke-width="1.1"/>
<path d="M417.5 296.0v4.7M411.0 35.5h-4.9M472.5 296.0v4.7M411.0 90.5h-4.9M527.5 296.0v4.7M411.0 145.5h-4.9M583.5 296.0v4.7M411.0 201.5h-4.9M638.5 296.0v4.7M411.0 256.5h-4.9" stroke="#000" stroke-width="1.1" fill="none"/>
<rect x="411.5" y="380.5" width="266.0" height="14" fill="url(#g)" stroke="#000" stroke-width="1.1"/>
<path d="M470.5 395v4.4M544.5 395v4.4M618.5 395v4.4" stroke="#000" stroke-width="1.1" fill="none"/>
<g shape-rendering="crispEdges">
<rect x="719" y="29" width="11" height="11" fill="#f5f5f4"/><rect x="730" y="29" width="11" height="11" fill="#f6edd5"/><rect x="741" y="29" width="11" height="11" fill="#bfe7e1"/><rect x="752" y="29" width="11" height="11" fill="#f6e9c7"/><rect x="763" y="29" width="11" height="11" fill="#d2a75c"/><rect x="774" y="29" width="11" height="11" fill="#ebf3f2"/><rect x="785" y="29" width="12" height="11" fill="#f5f4f0"/><rect x="797" y="29" width="22" height="11" fill="#f6e9c7"/><rect x="819" y="29" width="11" height="11" fill="#eff3f3"/><rect x="830" y="29" width="11" height="11" fill="#f5f0e0"/><rect x="841" y="29" width="11" height="11" fill="#e7f2f0"/><rect x="852" y="29" width="22" height="11" fill="#f6edd5"/><rect x="874" y="29" width="11" height="11" fill="#f5f2e8"/><rect x="885" y="29" width="11" height="11" fill="#d9b76f"/><rect x="896" y="29" width="11" height="11" fill="#eff3f3"/><rect x="907" y="29" width="11" height="11" fill="#f5f4f0"/><rect x="918" y="29" width="12" height="11" fill="#f6e9c7"/><rect x="930" y="29" width="11" height="11" fill="#a3dbd3"/><rect x="941" y="29" width="11" height="11" fill="#f5efdc"/><rect x="952" y="29" width="11" height="11" fill="#d7eeeb"/><rect x="963" y="29" width="11" height="11" fill="#e2f0ee"/><rect x="974" y="29" width="11" height="11" fill="#f5f2ea"/>
<rect x="719" y="40" width="11" height="11" fill="#f6edd5"/><rect x="730" y="40" width="11" height="11" fill="#f5f5f4"/><rect x="741" y="40" width="11" height="11" fill="#bfe7e1"/><rect x="752" y="40" width="11" height="11" fill="#def0ed"/><rect x="763" y="40" width="11" height="11" fill="#d9eeeb"/><rect x="774" y="40" width="11" height="11" fill="#e2c787"/><rect x="785" y="40" width="23" height="11" fill="#f6e9c7"/><rect x="808" y="40" width="11" height="11" fill="#ebf3f2"/><rect x="819" y="40" width="11" height="11" fill="#f5f3ee"/><rect x="830" y="40" width="11" height="11" fill="#f0f4f3"/><rect x="841" y="40" width="11" height="11" fill="#f6e9c7"/><rect x="852" y="40" width="11" height="11" fill="#f5f5f4"/><rect x="863" y="40" width="11" height="11" fill="#d7b169"/><rect x="874" y="40" width="11" height="11" fill="#cbebe6"/><rect x="885" y="40" width="11" height="11" fill="#975b12"/><rect x="896" y="40" width="11" height="11" fill="#d2ede9"/><rect x="907" y="40" width="11" height="11" fill="#f6edd5"/><rect x="918" y="40" width="12" height="11" fill="#f6eacb"/><rect x="930" y="40" width="11" height="11" fill="#64b9ae"/><rect x="941" y="40" width="11" height="11" fill="#f5efdc"/><rect x="952" y="40" width="11" height="11" fill="#f6ebcf"/><rect x="963" y="40" width="11" height="11" fill="#abdfd7"/><rect x="974" y="40" width="11" height="11" fill="#e7f2f0"/>
<rect x="719" y="51" width="11" height="11" fill="#f6e9c7"/><rect x="730" y="51" width="11" height="11" fill="#f5f1e4"/><rect x="741" y="51" width="11" height="11" fill="#f5f5f4"/><rect x="752" y="51" width="11" height="11" fill="#d7b169"/><rect x="763" y="51" width="22" height="11" fill="#e6f1f0"/><rect x="785" y="51" width="12" height="11" fill="#f6e8c3"/><rect x="797" y="51" width="11" height="11" fill="#def0ed"/><rect x="808" y="51" width="11" height="11" fill="#e6f1f0"/><rect x="819" y="51" width="11" height="11" fill="#eff3f3"/><rect x="830" y="51" width="11" height="11" fill="#e7cf94"/><rect x="841" y="51" width="11" height="11" fill="#f5f0e0"/><rect x="852" y="51" width="11" height="11" fill="#f6ebcf"/><rect x="863" y="51" width="11" height="11" fill="#f5f0e0"/><rect x="874" y="51" width="11" height="11" fill="#f6ebcf"/><rect x="885" y="51" width="11" height="11" fill="#e1c684"/><rect x="896" y="51" width="11" height="11" fill="#f5f2ea"/><rect x="907" y="51" width="11" height="11" fill="#f5f5f4"/><rect x="918" y="51" width="12" height="11" fill="#f5f3ee"/><rect x="930" y="51" width="11" height="11" fill="#e2f0ee"/><rect x="941" y="51" width="11" height="11" fill="#f5f0e0"/><rect x="952" y="51" width="11" height="11" fill="#def0ed"/><rect x="963" y="51" width="11" height="11" fill="#e9f2f1"/><rect x="974" y="51" width="11" height="11" fill="#f5f2e8"/>
<rect x="719" y="62" width="11" height="11" fill="#f5f4f0"/><rect x="730" y="62" width="11" height="11" fill="#f6edd7"/><rect x="741" y="62" width="11" height="11" fill="#e2f0ee"/><rect x="752" y="62" width="11" height="11" fill="#f5f5f4"/><rect x="763" y="62" width="11" height="11" fill="#f5f4f0"/><rect x="774" y="62" width="11" height="11" fill="#f5f1e4"/><rect x="785" y="62" width="12" height="11" fill="#ebf3f2"/><rect x="797" y="62" width="11" height="11" fill="#d9b76f"/><rect x="808" y="62" width="22" height="11" fill="#f5f4f0"/><rect x="830" y="62" width="11" height="11" fill="#f5f3ee"/><rect x="841" y="62" width="11" height="11" fill="#f5f1e4"/><rect x="852" y="62" width="11" height="11" fill="#e2f0ee"/><rect x="863" y="62" width="11" height="11" fill="#f6e9c7"/><rect x="874" y="62" width="11" height="11" fill="#ebf3f2"/><rect x="885" y="62" width="11" height="11" fill="#8b500a"/><rect x="896" y="62" width="11" height="11" fill="#f5f4f0"/><rect x="907" y="62" width="11" height="11" fill="#f5f1e4"/><rect x="918" y="62" width="12" height="11" fill="#f5f1e6"/><rect x="930" y="62" width="11" height="11" fill="#c7eae5"/><rect x="941" y="62" width="11" height="11" fill="#f5f1e4"/><rect x="952" y="62" width="11" height="11" fill="#eff3f3"/><rect x="963" y="62" width="11" height="11" fill="#d2ede9"/><rect x="974" y="62" width="11" height="11" fill="#ceece8"/>
<rect x="719" y="73" width="11" height="11" fill="#f6e9c7"/><rect x="730" y="73" width="11" height="11" fill="#f5f0e0"/><rect x="741" y="73" width="11" height="11" fill="#92d4ca"/><rect x="752" y="73" width="11" height="11" fill="#c7eae5"/><rect x="763" y="73" width="11" height="11" fill="#f5f5f4"/><rect x="774" y="73" width="11" height="11" fill="#e2f0ee"/><rect x="785" y="73" width="12" height="11" fill="#ebf3f2"/><rect x="797" y="73" width="11" height="11" fill="#dcbc75"/><rect x="808" y="73" width="11" height="11" fill="#cea053"/><rect x="819" y="73" width="11" height="11" fill="#f5f4f0"/><rect x="830" y="73" width="11" height="11" fill="#f2e2b8"/><rect x="841" y="73" width="11" height="11" fill="#c7eae5"/><rect x="852" y="73" width="11" height="11" fill="#e9f2f1"/><rect x="863" y="73" width="11" height="11" fill="#f5f4f0"/><rect x="874" y="73" width="11" height="11" fill="#f5f3ee"/><rect x="885" y="73" width="11" height="11" fill="#f3e4bb"/><rect x="896" y="73" width="11" height="11" fill="#f5f5f4"/><rect x="907" y="73" width="11" height="11" fill="#f3e4bb"/><rect x="918" y="73" width="12" height="11" fill="#f6ebcf"/><rect x="930" y="73" width="11" height="11" fill="#c7eae5"/><rect x="941" y="73" width="11" height="11" fill="#f5f2e8"/><rect x="952" y="73" width="11" height="11" fill="#d2ede9"/><rect x="963" y="73" width="11" height="11" fill="#eff3f3"/><rect x="974" y="73" width="11" height="11" fill="#f5f5f4"/>
<rect x="719" y="84" width="11" height="11" fill="#f5f0e0"/><rect x="730" y="84" width="11" height="11" fill="#f6e9c7"/><rect x="741" y="84" width="11" height="11" fill="#d2ede9"/><rect x="752" y="84" width="11" height="11" fill="#c7eae5"/><rect x="763" y="84" width="11" height="11" fill="#f5f2ea"/><rect x="774" y="84" width="11" height="11" fill="#f5f5f4"/><rect x="785" y="84" width="12" height="11" fill="#eff3f3"/><rect x="797" y="84" width="11" height="11" fill="#d2a75c"/><rect x="808" y="84" width="11" height="11" fill="#eff3f3"/><rect x="819" y="84" width="11" height="11" fill="#d7b169"/><rect x="830" y="84" width="11" height="11" fill="#f5f5f4"/><rect x="841" y="84" width="11" height="11" fill="#e7f2f0"/><rect x="852" y="84" width="11" height="11" fill="#e2f0ee"/><rect x="863" y="84" width="11" height="11" fill="#f5f5f4"/><rect x="874" y="84" width="11" height="11" fill="#e7f2f0"/><rect x="885" y="84" width="11" height="11" fill="#f6e8c3"/><rect x="896" y="84" width="11" height="11" fill="#e2f0ee"/><rect x="907" y="84" width="11" height="11" fill="#e2c787"/><rect x="918" y="84" width="12" height="11" fill="#edd9a8"/><rect x="930" y="84" width="11" height="11" fill="#c7eae5"/><rect x="941" y="84" width="11" height="11" fill="#f6ebcf"/><rect x="952" y="84" width="11" height="11" fill="#f5efdc"/><rect x="963" y="84" width="11" height="11" fill="#a3dbd3"/><rect x="974" y="84" width="11" height="11" fill="#e6f1f0"/>
<rect x="719" y="95" width="11" height="12" fill="#f5f1e6"/><rect x="730" y="95" width="22" height="12" fill="#f5f4f0"/><rect x="752" y="95" width="11" height="12" fill="#f5f2ea"/><rect x="763" y="95" width="11" height="12" fill="#f5f3ee"/><rect x="774" y="95" width="23" height="12" fill="#f5f5f4"/><rect x="797" y="95" width="11" height="12" fill="#f5f0e0"/><rect x="808" y="95" width="11" height="12" fill="#e2f0ee"/><rect x="819" y="95" width="11" height="12" fill="#ebf3f2"/><rect x="830" y="95" width="11" height="12" fill="#93580f"/><rect x="841" y="95" width="11" height="12" fill="#f6edd7"/><rect x="852" y="95" width="11" height="12" fill="#f5f2ea"/><rect x="863" y="95" width="11" height="12" fill="#f5f0e0"/><rect x="874" y="95" width="22" height="12" fill="#f6ebcf"/><rect x="896" y="95" width="11" height="12" fill="#f5f5f4"/><rect x="907" y="95" width="11" height="12" fill="#f6ebcf"/><rect x="918" y="95" width="12" height="12" fill="#f6e8c3"/><rect x="930" y="95" width="11" height="12" fill="#d7eeeb"/><rect x="941" y="95" width="11" height="12" fill="#f5f2ea"/><rect x="952" y="95" width="11" height="12" fill="#e2f0ee"/><rect x="963" y="95" width="11" height="12" fill="#f6edd7"/><rect x="974" y="95" width="11" height="12" fill="#f5f5f4"/>
<rect x="719" y="107" width="11" height="11" fill="#f0f4f3"/><rect x="730" y="107" width="11" height="11" fill="#d9eeeb"/><rect x="741" y="107" width="11" height="11" fill="#d2ede9"/><rect x="752" y="107" width="11" height="11" fill="#f6ebcf"/><rect x="763" y="107" width="11" height="11" fill="#f5f5f4"/><rect x="774" y="107" width="11" height="11" fill="#ebf3f2"/><rect x="785" y="107" width="12" height="11" fill="#98d7cd"/><rect x="797" y="107" width="11" height="11" fill="#f5f5f4"/><rect x="808" y="107" width="11" height="11" fill="#f6edd5"/><rect x="819" y="107" width="11" height="11" fill="#f6e9c7"/><rect x="830" y="107" width="11" height="11" fill="#f6e8c3"/><rect x="841" y="107" width="11" height="11" fill="#f6edd7"/><rect x="852" y="107" width="11" height="11" fill="#f5f5f4"/><rect x="863" y="107" width="11" height="11" fill="#d7eeeb"/><rect x="874" y="107" width="11" height="11" fill="#e9f2f1"/><rect x="885" y="107" width="11" height="11" fill="#ead59f"/><rect x="896" y="107" width="11" height="11" fill="#d7eeeb"/><rect x="907" y="107" width="11" height="11" fill="#eedbaa"/><rect x="918" y="107" width="12" height="11" fill="#f5f2e8"/><rect x="930" y="107" width="11" height="11" fill="#c7eae5"/><rect x="941" y="107" width="11" height="11" fill="#f6edd7"/><rect x="952" y="107" width="11" height="11" fill="#f5efdc"/><rect x="963" y="107" width="11" height="11" fill="#e7f2f0"/><rect x="974" y="107" width="11" height="11" fill="#ceece8"/>
<rect x="719" y="118" width="11" height="11" fill="#eff3f3"/><rect x="730" y="118" width="11" height="11" fill="#f5efdc"/><rect x="741" y="118" width="11" height="11" fill="#bce5df"/><rect x="752" y="118" width="11" height="11" fill="#f5f5f4"/><rect x="763" y="118" width="11" height="11" fill="#cea053"/><rect x="774" y="118" width="11" height="11" fill="#c7eae5"/><rect x="785" y="118" width="12" height="11" fill="#bfe7e1"/><rect x="797" y="118" width="11" height="11" fill="#cea053"/><rect x="808" y="118" width="11" height="11" fill="#f5f5f4"/><rect x="819" y="118" width="11" height="11" fill="#ead59f"/><rect x="830" y="118" width="11" height="11" fill="#e2c787"/><rect x="841" y="118" width="11" height="11" fill="#bfe7e1"/><rect x="852" y="118" width="11" height="11" fill="#e6f1f0"/><rect x="863" y="118" width="11" height="11" fill="#def0ed"/><rect x="874" y="118" width="11" height="11" fill="#f5f2ea"/><rect x="885" y="118" width="11" height="11" fill="#f5efdc"/><rect x="896" y="118" width="11" height="11" fill="#bfe7e1"/><rect x="907" y="118" width="11" height="11" fill="#f6eacb"/><rect x="918" y="118" width="12" height="11" fill="#f5f4f0"/><rect x="930" y="118" width="11" height="11" fill="#bfe7e1"/><rect x="941" y="118" width="11" height="11" fill="#f0deb0"/><rect x="952" y="118" width="11" height="11" fill="#d9eeeb"/><rect x="963" y="118" width="11" height="11" fill="#f5f5f4"/><rect x="974" y="118" width="11" height="11" fill="#f5f0e0"/>
<rect x="719" y="129" width="11" height="11" fill="#eff3f3"/><rect x="730" y="129" width="11" height="11" fill="#f5f2e8"/><rect x="741" y="129" width="11" height="11" fill="#eff3f3"/><rect x="752" y="129" width="11" height="11" fill="#d7eeeb"/><rect x="763" y="129" width="11" height="11" fill="#e2f0ee"/><rect x="774" y="129" width="11" height="11" fill="#f5f0e0"/><rect x="785" y="129" width="12" height="11" fill="#bfe7e1"/><rect x="797" y="129" width="11" height="11" fill="#975b12"/><rect x="808" y="129" width="11" height="11" fill="#ead59f"/><rect x="819" y="129" width="11" height="11" fill="#f5f5f4"/><rect x="830" y="129" width="11" height="11" fill="#f6eacb"/><rect x="841" y="129" width="11" height="11" fill="#a3dbd3"/><rect x="852" y="129" width="11" height="11" fill="#f5f4f0"/><rect x="863" y="129" width="11" height="11" fill="#def0ed"/><rect x="874" y="129" width="11" height="11" fill="#e2f0ee"/><rect x="885" y="129" width="11" height="11" fill="#f5f3ee"/><rect x="896" y="129" width="11" height="11" fill="#bfe7e1"/><rect x="907" y="129" width="11" height="11" fill="#f6eacb"/><rect x="918" y="129" width="12" height="11" fill="#f5f0e0"/><rect x="930" y="129" width="11" height="11" fill="#eff3f3"/><rect x="941" y="129" width="11" height="11" fill="#f6eacb"/><rect x="952" y="129" width="11" height="11" fill="#f6edd7"/><rect x="963" y="129" width="11" height="11" fill="#e6f1f0"/><rect x="974" y="129" width="11" height="11" fill="#f5f4f0"/>
<rect x="719" y="140" width="11" height="11" fill="#f5f5f4"/><rect x="730" y="140" width="11" height="11" fill="#f5f1e6"/><rect x="741" y="140" width="22" height="11" fill="#d2ede9"/><rect x="763" y="140" width="11" height="11" fill="#f6ebcf"/><rect x="774" y="140" width="11" height="11" fill="#d9eeeb"/><rect x="785" y="140" width="12" height="11" fill="#bfe7e1"/><rect x="797" y="140" width="11" height="11" fill="#f6e9c7"/><rect x="808" y="140" width="11" height="11" fill="#f5f1e6"/><rect x="819" y="140" width="11" height="11" fill="#f5f2e8"/><rect x="830" y="140" width="11" height="11" fill="#f5f5f4"/><rect x="841" y="140" width="11" height="11" fill="#f6e8c3"/><rect x="852" y="140" width="11" height="11" fill="#f6ebcf"/><rect x="863" y="140" width="11" height="11" fill="#f5f2e8"/><rect x="874" y="140" width="11" height="11" fill="#f5f4f0"/><rect x="885" y="140" width="11" height="11" fill="#e2c787"/><rect x="896" y="140" width="11" height="11" fill="#c7eae5"/><rect x="907" y="140" width="23" height="11" fill="#f6ebcf"/><rect x="930" y="140" width="11" height="11" fill="#a3dbd3"/><rect x="941" y="140" width="11" height="11" fill="#f5f1e6"/><rect x="952" y="140" width="11" height="11" fill="#e2f0ee"/><rect x="963" y="140" width="11" height="11" fill="#f0deb0"/><rect x="974" y="140" width="11" height="11" fill="#e2f0ee"/>
<rect x="719" y="151" width="11" height="11" fill="#f5f3ee"/><rect x="730" y="151" width="22" height="11" fill="#def0ed"/><rect x="752" y="151" width="11" height="11" fill="#f5efdc"/><rect x="763" y="151" width="11" height="11" fill="#ebf3f2"/><rect x="774" y="151" width="11" height="11" fill="#f5f1e6"/><rect x="785" y="151" width="12" height="11" fill="#a3dbd3"/><rect x="797" y="151" width="11" height="11" fill="#a5691b"/><rect x="808" y="151" width="11" height="11" fill="#f5f2ea"/><rect x="819" y="151" width="11" height="11" fill="#f5f4f0"/><rect x="830" y="151" width="11" height="11" fill="#e2c787"/><rect x="841" y="151" width="22" height="11" fill="#f5f5f4"/><rect x="863" y="151" width="11" height="11" fill="#d2ede9"/><rect x="874" y="151" width="11" height="11" fill="#f0f4f3"/><rect x="885" y="151" width="11" height="11" fill="#f6e9c7"/><rect x="896" y="151" width="11" height="11" fill="#c7eae5"/><rect x="907" y="151" width="11" height="11" fill="#eedbaa"/><rect x="918" y="151" width="12" height="11" fill="#f5f3ee"/><rect x="930" y="151" width="11" height="11" fill="#e2f0ee"/><rect x="941" y="151" width="11" height="11" fill="#f5f2e8"/><rect x="952" y="151" width="11" height="11" fill="#f6ebcf"/><rect x="963" y="151" width="11" height="11" fill="#eff3f3"/><rect x="974" y="151" width="11" height="11" fill="#ebf3f2"/>
<rect x="719" y="162" width="22" height="11" fill="#f6e9c7"/><rect x="741" y="162" width="11" height="11" fill="#e2f0ee"/><rect x="752" y="162" width="11" height="11" fill="#f6e9c7"/><rect x="763" y="162" width="11" height="11" fill="#f5f2e8"/><rect x="774" y="162" width="11" height="11" fill="#f5efdc"/><rect x="785" y="162" width="12" height="11" fill="#f5f2e8"/><rect x="797" y="162" width="33" height="11" fill="#ebf3f2"/><rect x="830" y="162" width="11" height="11" fill="#f5efdc"/><rect x="841" y="162" width="11" height="11" fill="#e2f0ee"/><rect x="852" y="162" width="11" height="11" fill="#f5f5f4"/><rect x="863" y="162" width="11" height="11" fill="#e1c684"/><rect x="874" y="162" width="11" height="11" fill="#f6ebcf"/><rect x="885" y="162" width="11" height="11" fill="#e2c787"/><rect x="896" y="162" width="11" height="11" fill="#f6e8c3"/><rect x="907" y="162" width="11" height="11" fill="#e2f0ee"/><rect x="918" y="162" width="12" height="11" fill="#f5f1e4"/><rect x="930" y="162" width="11" height="11" fill="#d9eeeb"/><rect x="941" y="162" width="11" height="11" fill="#f6ebcf"/><rect x="952" y="162" width="11" height="11" fill="#def0ed"/><rect x="963" y="162" width="11" height="11" fill="#e2f0ee"/><rect x="974" y="162" width="11" height="11" fill="#f6edd5"/>
<rect x="719" y="173" width="11" height="11" fill="#f5f4f0"/><rect x="730" y="173" width="11" height="11" fill="#f6edd7"/><rect x="741" y="173" width="11" height="11" fill="#abdfd7"/><rect x="752" y="173" width="11" height="11" fill="#e2f0ee"/><rect x="763" y="173" width="11" height="11" fill="#f5f5f4"/><rect x="774" y="173" width="11" height="11" fill="#f6e9c7"/><rect x="785" y="173" width="12" height="11" fill="#f6edd5"/><rect x="797" y="173" width="11" height="11" fill="#f5f0e0"/><rect x="808" y="173" width="11" height="11" fill="#eff3f3"/><rect x="819" y="173" width="11" height="11" fill="#f5f1e4"/><rect x="830" y="173" width="11" height="11" fill="#f5f3ee"/><rect x="841" y="173" width="11" height="11" fill="#f6ebcf"/><rect x="852" y="173" width="11" height="11" fill="#d2ede9"/><rect x="863" y="173" width="11" height="11" fill="#f5f5f4"/><rect x="874" y="173" width="11" height="11" fill="#d2ede9"/><rect x="885" y="173" width="11" height="11" fill="#543005"/><rect x="896" y="173" width="11" height="11" fill="#f5f2ea"/><rect x="907" y="173" width="11" height="11" fill="#e2c787"/><rect x="918" y="173" width="12" height="11" fill="#f5f4f0"/><rect x="930" y="173" width="11" height="11" fill="#87d0c5"/><rect x="941" y="173" width="11" height="11" fill="#f6edd7"/><rect x="952" y="173" width="11" height="11" fill="#def0ed"/><rect x="963" y="173" width="22" height="11" fill="#e2f0ee"/>
<rect x="719" y="184" width="11" height="11" fill="#f5efdc"/><rect x="730" y="184" width="11" height="11" fill="#f6edd5"/><rect x="741" y="184" width="11" height="11" fill="#abdfd7"/><rect x="752" y="184" width="11" height="11" fill="#f5f4f0"/><rect x="763" y="184" width="11" height="11" fill="#f5f0e0"/><rect x="774" y="184" width="11" height="11" fill="#d2ede9"/><rect x="785" y="184" width="23" height="11" fill="#f6edd5"/><rect x="808" y="184" width="11" height="11" fill="#d2ede9"/><rect x="819" y="184" width="11" height="11" fill="#f5f5f4"/><rect x="830" y="184" width="11" height="11" fill="#f6e9c7"/><rect x="841" y="184" width="11" height="11" fill="#d7eeeb"/><rect x="852" y="184" width="11" height="11" fill="#f5f1e6"/><rect x="863" y="184" width="11" height="11" fill="#ead59f"/><rect x="874" y="184" width="11" height="11" fill="#f5f5f4"/><rect x="885" y="184" width="11" height="11" fill="#975b12"/><rect x="896" y="184" width="11" height="11" fill="#e2f0ee"/><rect x="907" y="184" width="11" height="11" fill="#f6e8c3"/><rect x="918" y="184" width="12" height="11" fill="#eedbaa"/><rect x="930" y="184" width="11" height="11" fill="#d2ede9"/><rect x="941" y="184" width="11" height="11" fill="#f0deb0"/><rect x="952" y="184" width="11" height="11" fill="#abdfd7"/><rect x="963" y="184" width="11" height="11" fill="#f5f2e8"/><rect x="974" y="184" width="11" height="11" fill="#e2f0ee"/>
<rect x="719" y="195" width="11" height="11" fill="#f5f3ee"/><rect x="730" y="195" width="11" height="11" fill="#f5f2e8"/><rect x="741" y="195" width="11" height="11" fill="#c7eae5"/><rect x="752" y="195" width="11" height="11" fill="#d2ede9"/><rect x="763" y="195" width="11" height="11" fill="#f5f2ea"/><rect x="774" y="195" width="11" height="11" fill="#f5f0e0"/><rect x="785" y="195" width="12" height="11" fill="#ebf3f2"/><rect x="797" y="195" width="11" height="11" fill="#f0deb0"/><rect x="808" y="195" width="11" height="11" fill="#f5f2e8"/><rect x="819" y="195" width="11" height="11" fill="#f6e9c7"/><rect x="830" y="195" width="11" height="11" fill="#f6ebcf"/><rect x="841" y="195" width="11" height="11" fill="#d9eeeb"/><rect x="852" y="195" width="11" height="11" fill="#b6e3dd"/><rect x="863" y="195" width="11" height="11" fill="#ead59f"/><rect x="874" y="195" width="11" height="11" fill="#d2ede9"/><rect x="885" y="195" width="11" height="11" fill="#f5f5f4"/><rect x="896" y="195" width="11" height="11" fill="#f5f1e6"/><rect x="907" y="195" width="11" height="11" fill="#f6e9c7"/><rect x="918" y="195" width="12" height="11" fill="#f5f3ee"/><rect x="930" y="195" width="11" height="11" fill="#c7eae5"/><rect x="941" y="195" width="11" height="11" fill="#f6eacb"/><rect x="952" y="195" width="11" height="11" fill="#d7eeeb"/><rect x="963" y="195" width="11" height="11" fill="#c7eae5"/><rect x="974" y="195" width="11" height="11" fill="#f5f5f4"/>
<rect x="719" y="206" width="11" height="11" fill="#f6e9c7"/><rect x="730" y="206" width="11" height="11" fill="#f5f2ea"/><rect x="741" y="206" width="11" height="11" fill="#bce5df"/><rect x="752" y="206" width="11" height="11" fill="#abdfd7"/><rect x="763" y="206" width="11" height="11" fill="#f6ebcf"/><rect x="774" y="206" width="11" height="11" fill="#e2f0ee"/><rect x="785" y="206" width="12" height="11" fill="#f5f5f4"/><rect x="797" y="206" width="11" height="11" fill="#ead59f"/><rect x="808" y="206" width="22" height="11" fill="#f6edd5"/><rect x="830" y="206" width="11" height="11" fill="#f5f0e0"/><rect x="841" y="206" width="11" height="11" fill="#f6edd5"/><rect x="852" y="206" width="11" height="11" fill="#def0ed"/><rect x="863" y="206" width="11" height="11" fill="#f6edd5"/><rect x="874" y="206" width="11" height="11" fill="#f5f5f4"/><rect x="885" y="206" width="11" height="11" fill="#ead59f"/><rect x="896" y="206" width="11" height="11" fill="#f5f5f4"/><rect x="907" y="206" width="11" height="11" fill="#f6e9c7"/><rect x="918" y="206" width="12" height="11" fill="#f5f0e0"/><rect x="930" y="206" width="11" height="11" fill="#f5f3ee"/><rect x="941" y="206" width="11" height="11" fill="#cea053"/><rect x="952" y="206" width="11" height="11" fill="#e2f0ee"/><rect x="963" y="206" width="11" height="11" fill="#d7eeeb"/><rect x="974" y="206" width="11" height="11" fill="#d2ede9"/>
<rect x="719" y="217" width="11" height="11" fill="#f5f3ee"/><rect x="730" y="217" width="11" height="11" fill="#f5f5f4"/><rect x="741" y="217" width="11" height="11" fill="#e2f0ee"/><rect x="752" y="217" width="11" height="11" fill="#c7eae5"/><rect x="763" y="217" width="11" height="11" fill="#e9f2f1"/><rect x="774" y="217" width="11" height="11" fill="#f5f0e0"/><rect x="785" y="217" width="12" height="11" fill="#ebf3f2"/><rect x="797" y="217" width="11" height="11" fill="#d9b76f"/><rect x="808" y="217" width="11" height="11" fill="#f5f5f4"/><rect x="819" y="217" width="11" height="11" fill="#f6e9c7"/><rect x="830" y="217" width="11" height="11" fill="#e7f2f0"/><rect x="841" y="217" width="11" height="11" fill="#f6edd5"/><rect x="852" y="217" width="11" height="11" fill="#d2ede9"/><rect x="863" y="217" width="11" height="11" fill="#f5f0e0"/><rect x="874" y="217" width="11" height="11" fill="#eff3f3"/><rect x="885" y="217" width="11" height="11" fill="#e5cc8f"/><rect x="896" y="217" width="11" height="11" fill="#f5f5f4"/><rect x="907" y="217" width="11" height="11" fill="#f5f4f0"/><rect x="918" y="217" width="12" height="11" fill="#ebf3f2"/><rect x="930" y="217" width="11" height="11" fill="#def0ed"/><rect x="941" y="217" width="11" height="11" fill="#f6e8c3"/><rect x="952" y="217" width="11" height="11" fill="#e2c787"/><rect x="963" y="217" width="11" height="11" fill="#e2f0ee"/><rect x="974" y="217" width="11" height="11" fill="#c7eae5"/>
<rect x="719" y="228" width="11" height="12" fill="#f5efdc"/><rect x="730" y="228" width="11" height="12" fill="#ebf3f2"/><rect x="741" y="228" width="11" height="12" fill="#e7f2f0"/><rect x="752" y="228" width="11" height="12" fill="#f5f5f4"/><rect x="763" y="228" width="11" height="12" fill="#f5f0e0"/><rect x="774" y="228" width="11" height="12" fill="#f5f2e8"/><rect x="785" y="228" width="12" height="12" fill="#f6edd7"/><rect x="797" y="228" width="11" height="12" fill="#f6edd5"/><rect x="808" y="228" width="11" height="12" fill="#d7eeeb"/><rect x="819" y="228" width="11" height="12" fill="#f5f2ea"/><rect x="830" y="228" width="11" height="12" fill="#dcbc75"/><rect x="841" y="228" width="11" height="12" fill="#e6f1f0"/><rect x="852" y="228" width="11" height="12" fill="#f5f5f4"/><rect x="863" y="228" width="11" height="12" fill="#f5f0e0"/><rect x="874" y="228" width="11" height="12" fill="#f5f2e8"/><rect x="885" y="228" width="11" height="12" fill="#e8d29a"/><rect x="896" y="228" width="11" height="12" fill="#e2f0ee"/><rect x="907" y="228" width="11" height="12" fill="#f6e9c7"/><rect x="918" y="228" width="12" height="12" fill="#f5f5f4"/><rect x="930" y="228" width="11" height="12" fill="#def0ed"/><rect x="941" y="228" width="11" height="12" fill="#f6ebcf"/><rect x="952" y="228" width="11" height="12" fill="#e2f0ee"/><rect x="963" y="228" width="11" height="12" fill="#e2c787"/><rect x="974" y="228" width="11" height="12" fill="#f5f1e6"/>
<rect x="719" y="240" width="11" height="11" fill="#ebf3f2"/><rect x="730" y="240" width="22" height="11" fill="#def0ed"/><rect x="752" y="240" width="11" height="11" fill="#ebf3f2"/><rect x="763" y="240" width="11" height="11" fill="#f5f3ee"/><rect x="774" y="240" width="11" height="11" fill="#f5efdc"/><rect x="785" y="240" width="12" height="11" fill="#ceece8"/><rect x="797" y="240" width="11" height="11" fill="#bf812d"/><rect x="808" y="240" width="11" height="11" fill="#ebf3f2"/><rect x="819" y="240" width="11" height="11" fill="#f5f1e4"/><rect x="830" y="240" width="11" height="11" fill="#f5efdc"/><rect x="841" y="240" width="11" height="11" fill="#f6edd7"/><rect x="852" y="240" width="11" height="11" fill="#e2f0ee"/><rect x="863" y="240" width="11" height="11" fill="#def0ed"/><rect x="874" y="240" width="11" height="11" fill="#f5f5f4"/><rect x="885" y="240" width="11" height="11" fill="#cea053"/><rect x="896" y="240" width="11" height="11" fill="#e6f1f0"/><rect x="907" y="240" width="11" height="11" fill="#ead59f"/><rect x="918" y="240" width="12" height="11" fill="#f6e9c7"/><rect x="930" y="240" width="11" height="11" fill="#f5f5f4"/><rect x="941" y="240" width="11" height="11" fill="#f5f0e0"/><rect x="952" y="240" width="11" height="11" fill="#f5f2e8"/><rect x="963" y="240" width="11" height="11" fill="#e2f0ee"/><rect x="974" y="240" width="11" height="11" fill="#f6ebcf"/>
<rect x="719" y="251" width="11" height="11" fill="#f6e9c7"/><rect x="730" y="251" width="11" height="11" fill="#f5f5f4"/><rect x="741" y="251" width="11" height="11" fill="#b6e3dd"/><rect x="752" y="251" width="11" height="11" fill="#abdfd7"/><rect x="763" y="251" width="11" height="11" fill="#f5f5f4"/><rect x="774" y="251" width="23" height="11" fill="#cbebe6"/><rect x="797" y="251" width="11" height="11" fill="#ca9849"/><rect x="808" y="251" width="11" height="11" fill="#f0deb0"/><rect x="819" y="251" width="11" height="11" fill="#f6e8c3"/><rect x="830" y="251" width="11" height="11" fill="#f6edd7"/><rect x="841" y="251" width="11" height="11" fill="#d2ede9"/><rect x="852" y="251" width="11" height="11" fill="#e9f2f1"/><rect x="863" y="251" width="11" height="11" fill="#b6e3dd"/><rect x="874" y="251" width="11" height="11" fill="#f6edd5"/><rect x="885" y="251" width="11" height="11" fill="#e5cc8f"/><rect x="896" y="251" width="11" height="11" fill="#f6eacb"/><rect x="907" y="251" width="11" height="11" fill="#f6e8c3"/><rect x="918" y="251" width="12" height="11" fill="#f6edd5"/><rect x="930" y="251" width="11" height="11" fill="#c7eae5"/><rect x="941" y="251" width="11" height="11" fill="#f5f5f4"/><rect x="952" y="251" width="11" height="11" fill="#cbebe6"/><rect x="963" y="251" width="11" height="11" fill="#f5f2ea"/><rect x="974" y="251" width="11" height="11" fill="#e6f1f0"/>
<rect x="719" y="262" width="11" height="11" fill="#f5f5f4"/><rect x="730" y="262" width="11" height="11" fill="#f6e8c3"/><rect x="741" y="262" width="11" height="11" fill="#f5f1e4"/><rect x="752" y="262" width="11" height="11" fill="#ceece8"/><rect x="763" y="262" width="11" height="11" fill="#f5f2e8"/><rect x="774" y="262" width="11" height="11" fill="#e2f0ee"/><rect x="785" y="262" width="12" height="11" fill="#d2ede9"/><rect x="797" y="262" width="11" height="11" fill="#ead59f"/><rect x="808" y="262" width="11" height="11" fill="#f5f0e0"/><rect x="819" y="262" width="11" height="11" fill="#f6edd5"/><rect x="830" y="262" width="11" height="11" fill="#eff3f3"/><rect x="841" y="262" width="11" height="11" fill="#f6eacb"/><rect x="852" y="262" width="11" height="11" fill="#f6e9c7"/><rect x="863" y="262" width="11" height="11" fill="#e2f0ee"/><rect x="874" y="262" width="11" height="11" fill="#cbebe6"/><rect x="885" y="262" width="11" height="11" fill="#f5f2e8"/><rect x="896" y="262" width="11" height="11" fill="#e9f2f1"/><rect x="907" y="262" width="11" height="11" fill="#c79040"/><rect x="918" y="262" width="12" height="11" fill="#f5f0e0"/><rect x="930" y="262" width="11" height="11" fill="#def0ed"/><rect x="941" y="262" width="11" height="11" fill="#f0deb0"/><rect x="952" y="262" width="11" height="11" fill="#f5f5f4"/><rect x="963" y="262" width="11" height="11" fill="#e6f1f0"/><rect x="974" y="262" width="11" height="11" fill="#f5f2e8"/>
<rect x="719" y="273" width="22" height="11" fill="#ebf3f2"/><rect x="741" y="273" width="11" height="11" fill="#b6e3dd"/><rect x="752" y="273" width="11" height="11" fill="#f5f2ea"/><rect x="763" y="273" width="11" height="11" fill="#eff3f3"/><rect x="774" y="273" width="11" height="11" fill="#f5f3ee"/><rect x="785" y="273" width="12" height="11" fill="#ceece8"/><rect x="797" y="273" width="11" height="11" fill="#f3e4bb"/><rect x="808" y="273" width="11" height="11" fill="#d9eeeb"/><rect x="819" y="273" width="11" height="11" fill="#f5f5f4"/><rect x="830" y="273" width="11" height="11" fill="#b77928"/><rect x="841" y="273" width="11" height="11" fill="#f5f2e8"/><rect x="852" y="273" width="11" height="11" fill="#f5f3ee"/><rect x="863" y="273" width="11" height="11" fill="#f5f0e0"/><rect x="874" y="273" width="11" height="11" fill="#f6edd5"/><rect x="885" y="273" width="11" height="11" fill="#eedbaa"/><rect x="896" y="273" width="11" height="11" fill="#e2f0ee"/><rect x="907" y="273" width="11" height="11" fill="#f6edd5"/><rect x="918" y="273" width="12" height="11" fill="#e2c787"/><rect x="930" y="273" width="11" height="11" fill="#a3dbd3"/><rect x="941" y="273" width="11" height="11" fill="#ead59f"/><rect x="952" y="273" width="11" height="11" fill="#e9f2f1"/><rect x="963" y="273" width="11" height="11" fill="#f5f5f4"/><rect x="974" y="273" width="11" height="11" fill="#f0deb0"/>
<rect x="719" y="284" width="11" height="11" fill="#f5efdc"/><rect x="730" y="284" width="11" height="11" fill="#e9f2f1"/><rect x="741" y="284" width="11" height="11" fill="#b6e3dd"/><rect x="752" y="284" width="11" height="11" fill="#e2f0ee"/><rect x="763" y="284" width="11" height="11" fill="#d7eeeb"/><rect x="774" y="284" width="11" height="11" fill="#f6e8c3"/><rect x="785" y="284" width="12" height="11" fill="#b6e3dd"/><rect x="797" y="284" width="11" height="11" fill="#e2c787"/><rect x="808" y="284" width="11" height="11" fill="#f0f4f3"/><rect x="819" y="284" width="11" height="11" fill="#f5f5f4"/><rect x="830" y="284" width="11" height="11" fill="#f2e2b8"/><rect x="841" y="284" width="11" height="11" fill="#f6e9c7"/><rect x="852" y="284" width="11" height="11" fill="#d7eeeb"/><rect x="863" y="284" width="11" height="11" fill="#c7eae5"/><rect x="874" y="284" width="11" height="11" fill="#e6f1f0"/><rect x="885" y="284" width="11" height="11" fill="#d7b169"/><rect x="896" y="284" width="11" height="11" fill="#e2f0ee"/><rect x="907" y="284" width="11" height="11" fill="#f6e8c3"/><rect x="918" y="284" width="12" height="11" fill="#f6e9c7"/><rect x="930" y="284" width="11" height="11" fill="#f5f5f4"/><rect x="941" y="284" width="11" height="11" fill="#f0deb0"/><rect x="952" y="284" width="11" height="11" fill="#f5efdc"/><rect x="963" y="284" width="22" height="11" fill="#f5f5f4"/>
</g>
<rect x="719.5" y="29.5" width="266.0" height="266.0" fill="none" stroke="#000" stroke-width="1.1"/>
<path d="M725.5 296.0v4.7M719.0 35.5h-4.9M780.5 296.0v4.7M719.0 90.5h-4.9M835.5 296.0v4.7M719.0 145.5h-4.9M891.5 296.0v4.7M719.0 201.5h-4.9M946.5 296.0v4.7M719.0 256.5h-4.9" stroke="#000" stroke-width="1.1" fill="none"/>
<rect x="719.5" y="380.5" width="266.0" height="14" fill="url(#g)" stroke="#000" stroke-width="1.1"/>
<path d="M723.5 395v4.4M787.5 395v4.4M852.5 395v4.4M917.5 395v4.4M981.5 395v4.4" stroke="#000" stroke-width="1.1" fill="none"/>
<g class="t">
<text x="109.24" y="316.15" font-size="14.50" text-anchor="middle" textLength="8.62" lengthAdjust="spacingAndGlyphs">0</text>
<text x="89.38" y="40.00" font-size="14.50" text-anchor="middle" textLength="8.74" lengthAdjust="spacingAndGlyphs">0</text>
<text x="164.43" y="316.15" font-size="14.50" text-anchor="middle" textLength="8.70" lengthAdjust="spacingAndGlyphs">5</text>
<text x="89.41" y="96.00" font-size="14.50" text-anchor="middle" textLength="8.57" lengthAdjust="spacingAndGlyphs">5</text>
<text x="219.35" y="316.15" font-size="14.50" text-anchor="middle" textLength="16.52" lengthAdjust="spacingAndGlyphs">10</text>
<text x="84.41" y="151.00" font-size="14.50" text-anchor="middle" textLength="16.57" lengthAdjust="spacingAndGlyphs">10</text>
<text x="275.04" y="316.15" font-size="14.50" text-anchor="middle" textLength="16.01" lengthAdjust="spacingAndGlyphs">15</text>
<text x="84.23" y="207.00" font-size="14.50" text-anchor="middle" textLength="15.73" lengthAdjust="spacingAndGlyphs">15</text>
<text x="329.91" y="316.15" font-size="14.50" text-anchor="middle" textLength="17.58" lengthAdjust="spacingAndGlyphs">20</text>
<text x="84.58" y="262.00" font-size="14.50" text-anchor="middle" textLength="17.11" lengthAdjust="spacingAndGlyphs">20</text>
<text x="234.90" y="21.00" font-size="14.50" text-anchor="middle" textLength="70.21" lengthAdjust="spacingAndGlyphs">retinotopy</text>
<text x="221.71" y="335.05" font-size="14.50" text-anchor="middle" textLength="47.59" lengthAdjust="spacingAndGlyphs">Source</text>
<text x="262.12" y="335.05" font-size="14.50" text-anchor="middle" textLength="25.78" lengthAdjust="spacingAndGlyphs">ROI</text>
<text x="142.22" y="415.20" font-size="14.50" text-anchor="middle" textLength="31.70" lengthAdjust="spacingAndGlyphs">−0.2</text>
<text x="189.20" y="415.20" font-size="14.50" text-anchor="middle" textLength="31.84" lengthAdjust="spacingAndGlyphs">−0.1</text>
<text x="236.38" y="415.20" font-size="14.50" text-anchor="middle" textLength="20.25" lengthAdjust="spacingAndGlyphs">0.0</text>
<text x="283.35" y="415.20" font-size="14.50" text-anchor="middle" textLength="20.61" lengthAdjust="spacingAndGlyphs">0.1</text>
<text x="329.50" y="415.20" font-size="14.50" text-anchor="middle" textLength="20.81" lengthAdjust="spacingAndGlyphs">0.2</text>
<text x="235.75" y="433.90" font-size="14.50" text-anchor="middle" textLength="17.93" lengthAdjust="spacingAndGlyphs">EC</text>
<text x="417.24" y="316.15" font-size="14.50" text-anchor="middle" textLength="8.62" lengthAdjust="spacingAndGlyphs">0</text>
<text x="398.38" y="40.00" font-size="14.50" text-anchor="middle" textLength="8.74" lengthAdjust="spacingAndGlyphs">0</text>
<text x="472.43" y="316.15" font-size="14.50" text-anchor="middle" textLength="8.70" lengthAdjust="spacingAndGlyphs">5</text>
<text x="398.40" y="96.00" font-size="14.50" text-anchor="middle" textLength="8.57" lengthAdjust="spacingAndGlyphs">5</text>
<text x="527.35" y="316.15" font-size="14.50" text-anchor="middle" textLength="16.52" lengthAdjust="spacingAndGlyphs">10</text>
<text x="392.41" y="151.00" font-size="14.50" text-anchor="middle" textLength="16.57" lengthAdjust="spacingAndGlyphs">10</text>
<text x="583.04" y="316.15" font-size="14.50" text-anchor="middle" textLength="16.01" lengthAdjust="spacingAndGlyphs">15</text>
<text x="392.24" y="207.00" font-size="14.50" text-anchor="middle" textLength="15.73" lengthAdjust="spacingAndGlyphs">15</text>
<text x="637.91" y="316.15" font-size="14.50" text-anchor="middle" textLength="17.58" lengthAdjust="spacingAndGlyphs">20</text>
<text x="392.58" y="262.00" font-size="14.50" text-anchor="middle" textLength="17.11" lengthAdjust="spacingAndGlyphs">20</text>
<text x="543.80" y="21.00" font-size="14.50" text-anchor="middle" textLength="42.45" lengthAdjust="spacingAndGlyphs">movie</text>
<text x="529.71" y="335.05" font-size="14.50" text-anchor="middle" textLength="47.59" lengthAdjust="spacingAndGlyphs">Source</text>
<text x="570.12" y="335.05" font-size="14.50" text-anchor="middle" textLength="25.78" lengthAdjust="spacingAndGlyphs">ROI</text>
<text x="469.48" y="415.20" font-size="14.50" text-anchor="middle" textLength="31.89" lengthAdjust="spacingAndGlyphs">−0.1</text>
<text x="544.50" y="415.20" font-size="14.50" text-anchor="middle" textLength="20.52" lengthAdjust="spacingAndGlyphs">0.0</text>
<text x="619.52" y="415.20" font-size="14.50" text-anchor="middle" textLength="20.75" lengthAdjust="spacingAndGlyphs">0.1</text>
<text x="543.75" y="433.90" font-size="14.50" text-anchor="middle" textLength="17.94" lengthAdjust="spacingAndGlyphs">EC</text>
<text x="725.24" y="316.15" font-size="14.50" text-anchor="middle" textLength="8.62" lengthAdjust="spacingAndGlyphs">0</text>
<text x="706.36" y="40.00" font-size="14.50" text-anchor="middle" textLength="8.45" lengthAdjust="spacingAndGlyphs">0</text>
<text x="780.43" y="316.15" font-size="14.50" text-anchor="middle" textLength="8.70" lengthAdjust="spacingAndGlyphs">5</text>
<text x="706.38" y="96.00" font-size="14.50" text-anchor="middle" textLength="8.30" lengthAdjust="spacingAndGlyphs">5</text>
<text x="835.35" y="316.15" font-size="14.50" text-anchor="middle" textLength="16.52" lengthAdjust="spacingAndGlyphs">10</text>
<text x="701.26" y="151.00" font-size="14.50" text-anchor="middle" textLength="16.57" lengthAdjust="spacingAndGlyphs">10</text>
<text x="891.04" y="316.15" font-size="14.50" text-anchor="middle" textLength="16.01" lengthAdjust="spacingAndGlyphs">15</text>
<text x="701.21" y="207.00" font-size="14.50" text-anchor="middle" textLength="16.01" lengthAdjust="spacingAndGlyphs">15</text>
<text x="945.91" y="316.15" font-size="14.50" text-anchor="middle" textLength="17.58" lengthAdjust="spacingAndGlyphs">20</text>
<text x="701.68" y="262.00" font-size="14.50" text-anchor="middle" textLength="17.11" lengthAdjust="spacingAndGlyphs">20</text>
<text x="851.60" y="21.00" font-size="14.50" text-anchor="middle" textLength="25.60" lengthAdjust="spacingAndGlyphs">rest</text>
<text x="837.71" y="335.05" font-size="14.50" text-anchor="middle" textLength="47.59" lengthAdjust="spacingAndGlyphs">Source</text>
<text x="878.12" y="335.05" font-size="14.50" text-anchor="middle" textLength="25.78" lengthAdjust="spacingAndGlyphs">ROI</text>
<text x="723.10" y="415.20" font-size="14.50" text-anchor="middle" textLength="32.15" lengthAdjust="spacingAndGlyphs">−0.2</text>
<text x="787.17" y="415.20" font-size="14.50" text-anchor="middle" textLength="31.90" lengthAdjust="spacingAndGlyphs">−0.1</text>
<text x="852.50" y="415.20" font-size="14.50" text-anchor="middle" textLength="20.53" lengthAdjust="spacingAndGlyphs">0.0</text>
<text x="917.20" y="415.20" font-size="14.50" text-anchor="middle" textLength="20.52" lengthAdjust="spacingAndGlyphs">0.1</text>
<text x="982.02" y="415.20" font-size="14.50" text-anchor="middle" textLength="20.76" lengthAdjust="spacingAndGlyphs">0.2</text>
<text x="851.75" y="433.90" font-size="14.50" text-anchor="middle" textLength="17.93" lengthAdjust="spacingAndGlyphs">EC</text>
<text transform="translate(66.00 177.62) rotate(-90)" font-size="14.50" text-anchor="middle" textLength="43.35" lengthAdjust="spacingAndGlyphs">Target</text>
<text transform="translate(66.00 139.55) rotate(-90)" font-size="14.50" text-anchor="middle" textLength="25.17" lengthAdjust="spacingAndGlyphs">ROI</text>
<text transform="translate(24.10 186.22) rotate(-90)" font-size="19.80" text-anchor="middle" font-weight="bold" textLength="82.35" lengthAdjust="spacingAndGlyphs">Subject</text>
<text transform="translate(24.10 118.22) rotate(-90)" font-size="19.80" text-anchor="middle" font-weight="bold" textLength="39.95" lengthAdjust="spacingAndGlyphs">111</text>
</g>
</svg>
</body></html>
